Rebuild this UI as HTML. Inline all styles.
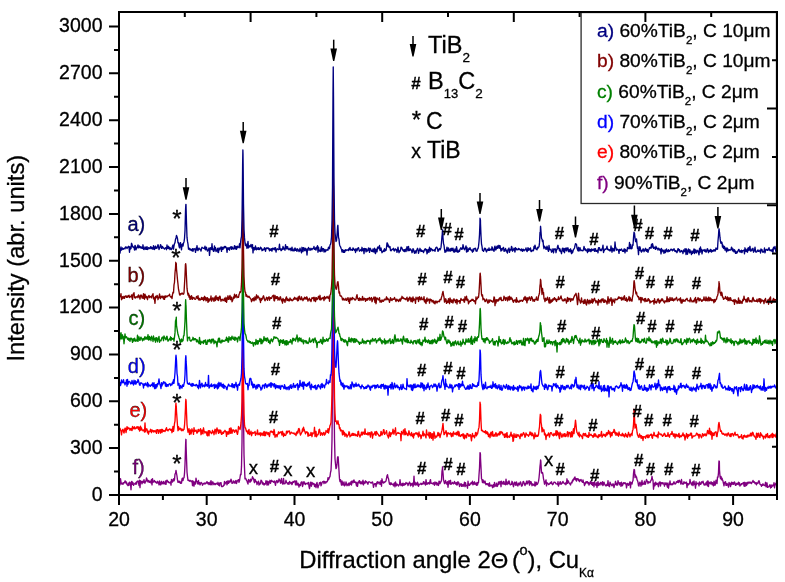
<!DOCTYPE html><html><head><meta charset="utf-8"><style>html,body{margin:0;padding:0;background:#fff;}svg{display:block;will-change:transform;}text{font-family:"Liberation Sans",sans-serif;stroke:#000;stroke-width:0.3px;}</style></head><body>
<svg width="785" height="582" viewBox="0 0 785 582">
<rect width="785" height="582" fill="#fff"/>
<polyline fill="none" stroke="#800080" stroke-width="1.35" stroke-linejoin="round" points="119.50,484.0 120.00,485.0 120.50,478.7 121.00,482.1 121.50,483.7 122.00,484.1 122.50,483.1 123.00,484.3 123.50,482.6 124.00,483.1 124.50,482.6 125.00,480.9 125.50,481.3 126.00,483.2 126.50,482.0 127.00,484.7 127.50,484.9 128.00,485.7 128.50,483.2 129.00,485.4 129.50,482.2 130.00,482.5 130.50,483.8 131.00,489.8 131.50,481.6 132.00,481.4 132.50,484.4 133.00,482.6 133.50,485.4 134.00,484.1 134.50,483.8 135.00,483.4 135.50,484.2 136.00,482.4 136.50,484.0 137.00,481.4 137.50,481.6 138.00,481.0 138.50,482.5 139.00,485.5 139.50,480.2 140.00,487.6 140.50,480.8 141.00,481.2 141.50,482.0 142.00,483.9 142.50,481.3 143.00,482.6 143.50,481.8 144.00,479.6 144.50,482.8 145.00,483.1 145.50,481.3 146.00,481.5 146.50,477.9 147.00,479.2 147.50,480.7 148.00,482.0 148.50,480.4 149.00,481.4 149.50,482.3 150.00,481.1 150.50,481.8 151.00,483.1 151.50,479.4 152.00,484.9 152.50,478.7 153.00,482.2 153.50,482.0 154.00,481.1 154.50,480.5 155.00,482.1 155.50,481.7 156.00,482.6 156.50,482.5 157.00,483.4 157.50,481.3 158.00,482.3 158.50,482.4 159.00,484.8 159.50,480.9 160.00,482.5 160.50,484.8 161.00,484.6 161.50,481.3 162.00,483.4 162.50,482.5 163.00,484.1 163.50,481.5 164.00,483.0 164.50,483.6 165.00,484.1 165.50,480.9 166.00,484.4 166.50,481.0 167.00,480.1 167.50,480.8 168.00,482.4 168.50,481.7 169.00,482.8 169.50,482.9 170.00,482.7 170.50,482.0 171.00,485.1 171.50,479.4 172.00,480.2 172.50,482.0 173.00,480.9 173.50,478.8 174.00,480.9 174.50,479.6 175.00,474.0 175.50,473.5 176.00,470.4 176.50,473.3 177.00,476.0 177.50,480.2 178.00,482.4 178.50,482.1 179.00,481.0 179.50,482.6 180.00,481.4 180.50,483.3 181.00,482.8 181.50,483.2 182.00,478.8 182.50,478.1 183.00,480.6 183.50,478.2 184.00,477.8 184.50,473.7 185.00,464.3 185.50,448.4 185.60,444.5 185.85,439.3 186.00,439.8 186.10,446.2 186.50,458.1 187.00,472.0 187.50,476.6 188.00,480.4 188.50,480.0 189.00,480.8 189.50,481.2 190.00,480.3 190.50,480.7 191.00,481.5 191.50,481.7 192.00,480.7 192.50,485.6 193.00,481.0 193.50,482.1 194.00,486.2 194.50,481.9 195.00,484.0 195.50,484.0 196.00,478.1 196.50,481.2 197.00,481.1 197.50,483.4 198.00,484.1 198.50,480.5 199.00,483.8 199.50,482.7 200.00,484.9 200.50,483.8 201.00,482.4 201.50,482.8 202.00,483.4 202.50,485.2 203.00,484.3 203.50,483.6 204.00,483.2 204.50,484.0 205.00,482.9 205.50,483.8 206.00,483.4 206.50,482.8 207.00,481.6 207.50,482.9 208.00,483.9 208.50,482.6 209.00,484.6 209.50,483.7 210.00,482.1 210.50,484.7 211.00,480.6 211.50,483.9 212.00,484.9 212.50,481.9 213.00,482.2 213.50,483.8 214.00,484.7 214.50,483.5 215.00,483.4 215.50,484.6 216.00,483.9 216.50,483.3 217.00,483.8 217.50,484.2 218.00,482.3 218.50,485.1 219.00,483.6 219.50,485.8 220.00,482.6 220.50,483.4 221.00,482.6 221.50,486.5 222.00,486.4 222.50,486.5 223.00,486.4 223.50,485.4 224.00,485.3 224.50,481.4 225.00,484.1 225.50,482.8 226.00,482.9 226.50,481.4 227.00,484.9 227.50,483.1 228.00,480.6 228.50,483.4 229.00,482.5 229.50,481.0 230.00,482.1 230.50,481.4 231.00,479.2 231.50,480.4 232.00,483.3 232.50,483.1 233.00,483.0 233.50,480.9 234.00,481.7 234.50,482.5 235.00,483.3 235.50,481.0 236.00,480.5 236.50,483.5 237.00,481.7 237.50,480.8 238.00,480.0 238.50,479.7 239.00,482.4 239.50,480.8 240.00,477.5 240.50,474.3 241.00,474.7 241.50,466.4 242.00,442.8 242.50,379.5 242.63,353.9 242.88,332.8 243.00,340.2 243.13,356.2 243.50,415.3 244.00,454.7 244.50,468.1 245.00,478.9 245.50,478.2 246.00,479.0 246.50,480.4 247.00,481.0 247.50,482.7 248.00,484.1 248.50,479.5 249.00,481.1 249.50,480.5 250.00,482.3 250.50,479.2 251.00,481.2 251.50,480.1 252.00,479.1 252.50,476.7 253.00,478.4 253.50,478.2 254.00,481.2 254.50,482.7 255.00,479.5 255.50,480.2 256.00,481.9 256.50,481.6 257.00,484.6 257.50,482.4 258.00,483.1 258.50,481.2 259.00,485.1 259.50,483.2 260.00,484.2 260.50,483.3 261.00,480.2 261.50,480.6 262.00,481.5 262.50,484.0 263.00,482.6 263.50,483.9 264.00,485.1 264.50,483.6 265.00,484.5 265.50,483.3 266.00,480.6 266.50,481.9 267.00,485.1 267.50,481.1 268.00,484.5 268.50,484.8 269.00,481.5 269.50,482.8 270.00,480.3 270.50,483.3 271.00,481.1 271.50,480.3 272.00,481.5 272.50,481.4 273.00,481.2 273.50,482.3 274.00,481.8 274.50,481.0 275.00,483.3 275.50,485.4 276.00,482.0 276.50,480.9 277.00,480.5 277.50,482.7 278.00,481.5 278.50,481.9 279.00,479.0 279.50,480.2 280.00,480.2 280.50,483.2 281.00,481.6 281.50,478.5 282.00,482.8 282.50,483.8 283.00,484.2 283.50,478.4 284.00,482.7 284.50,483.8 285.00,483.6 285.50,482.5 286.00,480.3 286.50,482.3 287.00,482.6 287.50,483.9 288.00,484.0 288.50,482.7 289.00,484.3 289.50,481.5 290.00,482.0 290.50,482.9 291.00,483.7 291.50,482.4 292.00,484.6 292.50,483.3 293.00,481.4 293.50,482.4 294.00,481.5 294.50,481.4 295.00,480.8 295.50,484.9 296.00,484.4 296.50,480.9 297.00,485.0 297.50,484.9 298.00,483.1 298.50,484.5 299.00,487.1 299.50,484.4 300.00,484.6 300.50,485.6 301.00,482.5 301.50,482.1 302.00,481.8 302.50,486.5 303.00,484.9 303.50,482.4 304.00,481.6 304.50,483.8 305.00,483.0 305.50,484.5 306.00,483.5 306.50,483.5 307.00,483.7 307.50,484.0 308.00,482.7 308.50,482.5 309.00,486.5 309.50,488.7 310.00,485.9 310.50,482.1 311.00,484.5 311.50,486.2 312.00,482.3 312.50,484.0 313.00,484.2 313.50,483.5 314.00,483.7 314.50,486.5 315.00,484.4 315.50,484.8 316.00,487.6 316.50,483.9 317.00,482.4 317.50,486.0 318.00,487.8 318.50,485.1 319.00,485.1 319.50,482.7 320.00,483.0 320.50,482.2 321.00,485.8 321.50,484.7 322.00,482.7 322.50,481.7 323.00,481.7 323.50,481.3 324.00,483.6 324.50,481.4 325.00,481.6 325.50,483.0 326.00,482.8 326.50,481.6 327.00,481.9 327.50,480.9 328.00,477.6 328.50,479.7 329.00,478.4 329.50,477.3 330.00,476.4 330.50,472.5 331.00,470.5 331.50,459.8 332.00,440.1 332.50,388.4 332.99,289.8 333.00,290.0 333.24,262.8 333.49,290.7 333.50,289.7 334.00,387.6 334.50,438.7 335.00,458.8 335.50,464.0 336.00,468.6 336.50,467.7 337.00,464.2 337.50,457.5 337.64,458.6 337.89,456.7 338.00,458.4 338.14,456.9 338.50,462.5 339.00,471.0 339.50,478.9 340.00,481.6 340.50,479.7 341.00,482.3 341.50,485.1 342.00,481.0 342.50,482.6 343.00,485.0 343.50,484.4 344.00,481.9 344.50,485.8 345.00,485.2 345.50,484.8 346.00,482.0 346.50,483.6 347.00,485.7 347.50,484.4 348.00,484.8 348.50,483.2 349.00,485.6 349.50,483.0 350.00,484.5 350.50,483.6 351.00,481.6 351.50,485.0 352.00,481.0 352.50,481.6 353.00,482.8 353.50,480.6 354.00,480.0 354.50,482.4 355.00,481.9 355.50,482.2 356.00,483.4 356.50,485.9 357.00,482.2 357.50,486.3 358.00,483.2 358.50,482.8 359.00,481.0 359.50,480.7 360.00,483.3 360.50,483.7 361.00,481.6 361.50,483.2 362.00,484.0 362.50,481.8 363.00,480.2 363.50,484.9 364.00,481.9 364.50,482.6 365.00,483.3 365.50,480.8 366.00,482.1 366.50,481.7 367.00,482.2 367.50,483.8 368.00,484.2 368.50,481.8 369.00,481.8 369.50,481.8 370.00,482.2 370.50,482.6 371.00,483.1 371.50,482.8 372.00,482.1 372.50,482.0 373.00,483.9 373.50,487.3 374.00,484.7 374.50,483.7 375.00,484.4 375.50,483.6 376.00,486.6 376.50,483.3 377.00,482.3 377.50,481.7 378.00,483.8 378.50,482.1 379.00,482.2 379.50,482.1 380.00,484.3 380.50,483.4 381.00,480.6 381.50,486.2 382.00,478.8 382.50,482.1 383.00,482.6 383.50,483.0 384.00,481.8 384.50,482.5 385.00,482.0 385.50,481.4 386.00,480.9 386.50,478.5 387.00,475.7 387.50,474.7 388.00,477.6 388.50,478.5 389.00,481.6 389.50,484.2 390.00,483.2 390.50,484.7 391.00,482.7 391.50,483.9 392.00,484.4 392.50,484.1 393.00,484.5 393.50,485.9 394.00,483.5 394.50,483.0 395.00,486.8 395.50,481.9 396.00,483.9 396.50,485.7 397.00,484.0 397.50,484.9 398.00,484.7 398.50,486.0 399.00,485.0 399.50,484.7 400.00,479.7 400.50,483.7 401.00,485.5 401.50,484.3 402.00,483.5 402.50,485.8 403.00,483.2 403.50,484.0 404.00,485.4 404.50,483.6 405.00,484.6 405.50,484.3 406.00,482.5 406.50,483.4 407.00,483.6 407.50,483.2 408.00,485.6 408.50,484.0 409.00,483.1 409.50,482.0 410.00,483.5 410.50,485.8 411.00,483.5 411.50,485.0 412.00,484.6 412.50,483.2 413.00,486.7 413.50,484.7 414.00,476.1 414.50,484.7 415.00,482.1 415.50,485.0 416.00,483.1 416.50,483.5 417.00,485.1 417.50,482.1 418.00,483.6 418.50,486.4 419.00,484.3 419.50,484.6 420.00,484.1 420.50,484.0 421.00,483.2 421.50,484.6 422.00,483.4 422.50,484.0 423.00,484.0 423.50,481.7 424.00,481.9 424.50,483.8 425.00,483.3 425.50,485.0 426.00,479.6 426.50,483.2 427.00,484.4 427.50,482.9 428.00,483.8 428.50,482.7 429.00,482.6 429.50,484.0 430.00,480.9 430.50,479.6 431.00,483.5 431.50,483.1 432.00,483.2 432.50,483.5 433.00,484.1 433.50,482.6 434.00,484.0 434.50,485.3 435.00,481.9 435.50,483.3 436.00,484.0 436.50,482.5 437.00,485.1 437.50,483.2 438.00,484.7 438.50,485.5 439.00,481.2 439.50,481.3 440.00,483.7 440.50,482.1 441.00,481.8 441.50,480.2 442.00,471.0 442.22,470.3 442.47,467.7 442.50,466.8 442.72,469.7 443.00,472.7 443.50,479.7 444.00,481.6 444.50,483.5 445.00,483.5 445.50,480.5 446.00,482.5 446.50,482.7 447.00,484.4 447.50,481.7 448.00,487.3 448.50,482.6 449.00,480.6 449.50,482.9 450.00,484.0 450.50,480.3 451.00,484.4 451.50,483.6 452.00,483.5 452.50,482.4 453.00,482.9 453.50,483.8 454.00,483.2 454.50,481.5 455.00,483.1 455.50,484.0 456.00,482.8 456.50,484.8 457.00,482.4 457.50,484.9 458.00,481.7 458.50,483.2 459.00,483.0 459.50,486.5 460.00,484.6 460.50,484.8 461.00,483.6 461.50,486.3 462.00,484.3 462.50,485.4 463.00,486.3 463.50,484.4 464.00,485.7 464.50,482.2 465.00,486.6 465.50,482.7 466.00,485.7 466.50,485.5 467.00,485.7 467.50,488.2 468.00,481.2 468.50,485.3 469.00,483.8 469.50,485.3 470.00,484.4 470.50,483.9 471.00,482.9 471.50,482.5 472.00,483.9 472.50,481.2 473.00,484.9 473.50,482.6 474.00,484.1 474.50,481.8 475.00,484.2 475.50,483.2 476.00,484.6 476.50,485.2 477.00,482.4 477.50,485.1 478.00,482.5 478.50,482.7 479.00,474.8 479.50,468.0 479.95,455.5 480.00,452.7 480.20,452.8 480.45,454.3 480.50,458.0 481.00,467.9 481.50,478.8 482.00,479.8 482.50,482.6 483.00,479.8 483.50,481.5 484.00,483.1 484.50,481.7 485.00,481.0 485.50,483.4 486.00,484.7 486.50,483.7 487.00,483.6 487.50,484.6 488.00,483.6 488.50,485.6 489.00,486.0 489.50,482.8 490.00,486.2 490.50,485.8 491.00,485.3 491.50,485.9 492.00,485.0 492.50,487.7 493.00,487.3 493.50,484.6 494.00,486.8 494.50,482.4 495.00,486.1 495.50,485.7 496.00,486.0 496.50,483.2 497.00,486.5 497.50,486.1 498.00,484.5 498.50,482.0 499.00,484.4 499.50,482.6 500.00,481.4 500.50,482.5 501.00,486.7 501.50,481.1 502.00,482.7 502.50,483.3 503.00,484.3 503.50,481.5 504.00,481.6 504.50,484.2 505.00,483.6 505.50,484.8 506.00,479.2 506.50,483.1 507.00,484.6 507.50,483.6 508.00,481.8 508.50,483.7 509.00,480.8 509.50,482.4 510.00,484.6 510.50,484.8 511.00,484.1 511.50,484.4 512.00,481.3 512.50,482.5 513.00,484.9 513.50,486.7 514.00,484.1 514.50,482.1 515.00,482.1 515.50,485.2 516.00,485.1 516.50,481.9 517.00,483.9 517.50,485.8 518.00,485.9 518.50,483.2 519.00,483.8 519.50,484.8 520.00,482.6 520.50,481.9 521.00,483.3 521.50,486.1 522.00,485.9 522.50,485.0 523.00,481.9 523.50,481.5 524.00,482.8 524.50,484.2 525.00,485.6 525.50,483.4 526.00,484.1 526.50,481.4 527.00,480.9 527.50,483.9 528.00,482.2 528.50,482.4 529.00,480.7 529.50,485.1 530.00,481.3 530.50,483.9 531.00,481.7 531.50,483.3 532.00,485.7 532.50,484.2 533.00,484.0 533.50,485.1 534.00,484.6 534.50,485.8 535.00,481.8 535.50,485.8 536.00,483.9 536.50,482.3 537.00,484.5 537.50,484.1 538.00,482.9 538.50,481.4 539.00,478.0 539.50,472.8 540.00,466.3 540.31,463.9 540.50,461.5 540.56,460.0 540.81,460.9 541.00,464.3 541.50,472.8 542.00,473.1 542.50,472.5 543.00,474.9 543.50,478.8 544.00,480.9 544.50,484.2 545.00,483.0 545.50,481.6 546.00,479.9 546.50,485.9 547.00,482.7 547.50,483.3 548.00,483.4 548.50,484.6 549.00,484.2 549.50,484.1 550.00,483.1 550.50,482.5 551.00,483.3 551.50,481.8 552.00,483.6 552.50,484.7 553.00,484.3 553.50,483.5 554.00,482.1 554.50,482.1 555.00,482.3 555.50,482.7 556.00,483.9 556.50,483.9 557.00,483.9 557.50,484.5 558.00,481.6 558.50,486.1 559.00,483.7 559.50,484.0 560.00,481.9 560.50,481.8 561.00,484.4 561.50,483.8 562.00,483.4 562.50,482.4 563.00,481.4 563.50,482.7 564.00,483.2 564.50,483.5 565.00,484.1 565.50,483.0 566.00,484.7 566.50,482.5 567.00,478.8 567.50,483.3 568.00,480.7 568.50,481.4 569.00,482.6 569.50,483.6 570.00,483.8 570.50,485.0 571.00,483.0 571.50,482.3 572.00,482.9 572.50,480.2 573.00,481.0 573.50,479.0 574.00,479.5 574.50,477.5 575.00,477.0 575.50,479.8 576.00,478.7 576.50,481.1 577.00,478.6 577.50,478.9 578.00,478.8 578.50,480.5 579.00,479.5 579.50,481.5 580.00,480.9 580.50,479.9 581.00,479.4 581.50,480.8 582.00,481.6 582.50,482.2 583.00,480.0 583.50,482.3 584.00,482.9 584.50,485.6 585.00,483.0 585.50,483.9 586.00,481.6 586.50,482.7 587.00,481.7 587.50,481.6 588.00,483.5 588.50,482.6 589.00,485.0 589.50,483.0 590.00,483.7 590.50,481.4 591.00,481.8 591.50,484.3 592.00,482.5 592.50,485.4 593.00,482.6 593.50,482.6 594.00,486.8 594.50,481.7 595.00,483.5 595.50,485.1 596.00,485.2 596.50,482.8 597.00,487.5 597.50,483.7 598.00,481.6 598.50,485.5 599.00,483.4 599.50,484.1 600.00,485.0 600.50,482.5 601.00,482.7 601.50,483.5 602.00,484.8 602.50,481.7 603.00,485.6 603.50,484.1 604.00,482.1 604.50,483.8 605.00,484.7 605.50,485.8 606.00,485.3 606.50,485.8 607.00,484.1 607.50,485.4 608.00,480.6 608.50,485.8 609.00,484.3 609.50,486.6 610.00,482.1 610.50,483.5 611.00,484.1 611.50,485.1 612.00,485.9 612.50,485.2 613.00,483.7 613.50,485.0 614.00,487.5 614.50,485.2 615.00,484.3 615.50,481.3 616.00,484.3 616.50,485.0 617.00,483.3 617.50,485.1 618.00,480.6 618.50,482.8 619.00,482.6 619.50,484.8 620.00,482.9 620.50,482.8 621.00,486.3 621.50,482.1 622.00,484.9 622.50,485.7 623.00,483.7 623.50,482.7 624.00,483.7 624.50,483.0 625.00,482.6 625.50,483.9 626.00,483.4 626.50,487.8 627.00,485.1 627.50,483.4 628.00,483.8 628.50,485.4 629.00,484.6 629.50,482.9 630.00,481.7 630.50,487.9 631.00,482.7 631.50,482.9 632.00,484.1 632.50,481.5 633.00,480.6 633.50,473.7 634.00,469.5 634.50,469.8 635.00,477.6 635.50,474.8 636.00,476.7 636.50,476.9 637.00,479.6 637.50,480.7 638.00,482.3 638.50,485.6 639.00,486.0 639.50,483.1 640.00,482.2 640.50,483.2 641.00,486.2 641.50,483.6 642.00,480.5 642.50,484.7 643.00,483.2 643.50,484.1 644.00,483.7 644.50,481.2 645.00,484.4 645.50,483.9 646.00,481.9 646.50,479.5 647.00,481.1 647.50,481.1 648.00,483.6 648.50,481.8 649.00,481.9 649.50,482.3 650.00,482.7 650.50,481.5 651.00,480.2 651.50,479.9 652.00,476.3 652.50,479.5 653.00,480.2 653.50,489.2 654.00,485.3 654.50,483.3 655.00,485.7 655.50,482.1 656.00,483.3 656.50,484.5 657.00,483.3 657.50,483.4 658.00,485.0 658.50,486.7 659.00,482.5 659.50,482.7 660.00,481.8 660.50,486.0 661.00,482.7 661.50,483.6 662.00,482.8 662.50,483.8 663.00,482.6 663.50,484.1 664.00,484.1 664.50,486.2 665.00,482.6 665.50,484.3 666.00,484.1 666.50,483.0 667.00,485.6 667.50,487.2 668.00,483.0 668.50,488.2 669.00,484.5 669.50,484.5 670.00,480.9 670.50,484.6 671.00,484.2 671.50,483.9 672.00,485.0 672.50,483.7 673.00,484.3 673.50,482.7 674.00,481.8 674.50,483.4 675.00,484.0 675.50,483.9 676.00,482.9 676.50,481.6 677.00,482.5 677.50,481.9 678.00,480.4 678.50,482.5 679.00,481.7 679.50,480.3 680.00,481.5 680.50,482.8 681.00,484.2 681.50,479.5 682.00,483.2 682.50,483.3 683.00,484.4 683.50,483.5 684.00,481.7 684.50,482.7 685.00,483.5 685.50,482.6 686.00,482.3 686.50,482.1 687.00,487.6 687.50,484.0 688.00,483.6 688.50,484.9 689.00,484.0 689.50,483.6 690.00,479.4 690.50,482.6 691.00,483.1 691.50,484.9 692.00,484.4 692.50,481.9 693.00,485.6 693.50,482.8 694.00,481.0 694.50,484.3 695.00,484.1 695.50,488.2 696.00,481.6 696.50,484.7 697.00,483.6 697.50,483.3 698.00,483.1 698.50,483.3 699.00,485.9 699.50,482.0 700.00,483.2 700.50,484.4 701.00,484.0 701.50,481.8 702.00,482.9 702.50,482.6 703.00,481.2 703.50,483.1 704.00,484.8 704.50,484.0 705.00,485.2 705.50,484.4 706.00,482.8 706.50,484.7 707.00,481.5 707.50,485.9 708.00,480.8 708.50,486.5 709.00,482.2 709.50,482.8 710.00,483.5 710.50,483.8 711.00,481.8 711.50,482.2 712.00,484.6 712.50,482.6 713.00,484.9 713.50,485.8 714.00,481.1 714.50,482.5 715.00,485.3 715.50,484.0 716.00,480.2 716.50,482.3 717.00,483.6 717.50,476.9 718.00,477.2 718.50,472.6 718.85,462.7 719.00,461.0 719.10,462.6 719.35,461.4 719.50,470.0 720.00,476.4 720.50,478.6 721.00,476.4 721.50,479.8 722.00,478.1 722.50,479.8 723.00,481.3 723.50,483.6 724.00,485.8 724.50,482.3 725.00,482.7 725.50,481.7 726.00,485.3 726.50,485.3 727.00,483.4 727.50,485.0 728.00,484.4 728.50,487.1 729.00,482.5 729.50,484.5 730.00,483.4 730.50,486.6 731.00,484.5 731.50,482.1 732.00,484.4 732.50,483.5 733.00,482.4 733.50,484.3 734.00,483.9 734.50,482.0 735.00,483.1 735.50,485.4 736.00,485.2 736.50,483.6 737.00,483.3 737.50,484.3 738.00,483.7 738.50,482.2 739.00,484.9 739.50,482.8 740.00,486.1 740.50,484.8 741.00,485.0 741.50,483.6 742.00,484.3 742.50,483.2 743.00,483.4 743.50,482.5 744.00,486.0 744.50,482.3 745.00,486.3 745.50,483.3 746.00,482.5 746.50,485.5 747.00,484.2 747.50,482.3 748.00,483.7 748.50,482.7 749.00,481.9 749.50,482.8 750.00,483.2 750.50,482.2 751.00,482.5 751.50,483.6 752.00,482.3 752.50,481.8 753.00,480.5 753.50,482.2 754.00,481.7 754.50,482.0 755.00,483.5 755.50,483.7 756.00,482.6 756.50,484.9 757.00,483.0 757.50,483.4 758.00,483.4 758.50,481.2 759.00,480.7 759.50,482.2 760.00,484.3 760.50,484.7 761.00,484.6 761.50,486.3 762.00,484.8 762.50,485.4 763.00,483.8 763.50,485.1 764.00,485.1 764.50,485.6 765.00,485.3 765.50,482.3 766.00,486.8 766.50,486.7 767.00,482.8 767.50,487.4 768.00,487.2 768.50,486.7 769.00,486.6 769.50,485.2 770.00,484.7 770.50,488.0 771.00,485.8 771.50,487.4 772.00,484.8 772.50,486.1 773.00,485.8 773.50,485.7 774.00,482.7 774.50,487.8 775.00,484.8 775.50,483.8 776.00,484.7 776.50,481.7"/>
<polyline fill="none" stroke="#ff0000" stroke-width="1.35" stroke-linejoin="round" points="119.50,429.1 120.00,428.3 120.50,430.1 121.00,431.3 121.50,434.8 122.00,430.8 122.50,429.7 123.00,429.3 123.50,431.7 124.00,433.1 124.50,430.3 125.00,428.1 125.50,428.4 126.00,432.5 126.50,430.0 127.00,426.7 127.50,429.4 128.00,427.5 128.50,428.4 129.00,428.6 129.50,428.2 130.00,430.3 130.50,429.3 131.00,428.4 131.50,430.0 132.00,430.6 132.50,426.5 133.00,428.7 133.50,427.4 134.00,428.7 134.50,426.8 135.00,428.9 135.50,428.7 136.00,428.3 136.50,427.0 137.00,428.1 137.50,427.0 138.00,426.6 138.50,429.3 139.00,427.2 139.50,431.0 140.00,430.4 140.50,426.1 141.00,430.0 141.50,427.9 142.00,429.9 142.50,430.1 143.00,430.7 143.50,429.9 144.00,429.9 144.50,432.0 145.00,422.9 145.50,431.7 146.00,428.6 146.50,429.9 147.00,429.0 147.50,432.7 148.00,431.2 148.50,434.2 149.00,431.3 149.50,431.6 150.00,431.6 150.50,429.3 151.00,430.2 151.50,432.7 152.00,429.9 152.50,431.0 153.00,430.8 153.50,432.0 154.00,430.6 154.50,431.1 155.00,431.9 155.50,431.8 156.00,430.3 156.50,433.3 157.00,429.7 157.50,429.9 158.00,429.7 158.50,433.4 159.00,431.2 159.50,430.1 160.00,429.8 160.50,433.1 161.00,429.8 161.50,429.4 162.00,432.5 162.50,429.5 163.00,430.9 163.50,431.3 164.00,430.5 164.50,431.1 165.00,431.6 165.50,430.1 166.00,428.8 166.50,427.7 167.00,430.3 167.50,430.0 168.00,430.9 168.50,429.6 169.00,429.5 169.50,429.0 170.00,429.2 170.50,430.2 171.00,429.2 171.50,429.9 172.00,432.7 172.50,430.1 173.00,426.4 173.50,431.4 174.00,428.1 174.50,423.5 175.00,421.1 175.50,410.6 175.78,404.9 176.00,403.2 176.03,405.1 176.28,406.1 176.50,411.5 177.00,418.4 177.50,425.5 178.00,430.7 178.50,426.7 179.00,429.7 179.50,429.1 180.00,428.1 180.50,428.3 181.00,430.0 181.50,430.7 182.00,429.0 182.50,429.8 183.00,430.7 183.50,429.4 184.00,429.3 184.50,425.7 185.00,418.1 185.50,407.2 185.60,402.8 185.85,399.3 186.00,401.3 186.10,400.6 186.50,412.2 187.00,424.6 187.50,429.0 188.00,432.2 188.50,430.5 189.00,428.6 189.50,434.5 190.00,433.3 190.50,429.9 191.00,434.0 191.50,431.9 192.00,428.8 192.50,431.1 193.00,431.0 193.50,434.4 194.00,427.7 194.50,431.3 195.00,431.2 195.50,430.9 196.00,430.0 196.50,431.8 197.00,433.2 197.50,432.4 198.00,429.8 198.50,429.4 199.00,431.5 199.50,430.2 200.00,430.3 200.50,428.6 201.00,434.7 201.50,433.0 202.00,430.0 202.50,433.1 203.00,433.9 203.50,427.8 204.00,431.0 204.50,431.3 205.00,433.1 205.50,431.9 206.00,431.8 206.50,432.1 207.00,435.3 207.50,435.8 208.00,431.4 208.50,430.7 209.00,435.8 209.50,430.6 210.00,431.2 210.50,432.1 211.00,432.8 211.50,433.6 212.00,432.5 212.50,430.3 213.00,432.5 213.50,432.0 214.00,434.7 214.50,431.5 215.00,429.3 215.50,429.7 216.00,433.8 216.50,430.5 217.00,427.9 217.50,430.4 218.00,431.4 218.50,433.3 219.00,429.7 219.50,432.5 220.00,432.7 220.50,430.2 221.00,431.1 221.50,434.3 222.00,434.3 222.50,432.9 223.00,432.1 223.50,433.4 224.00,431.4 224.50,431.5 225.00,430.3 225.50,431.8 226.00,431.7 226.50,436.4 227.00,431.6 227.50,434.0 228.00,434.2 228.50,431.7 229.00,433.9 229.50,428.4 230.00,432.1 230.50,433.3 231.00,427.8 231.50,429.8 232.00,433.4 232.50,431.1 233.00,429.6 233.50,430.7 234.00,430.3 234.50,432.3 235.00,431.8 235.50,430.5 236.00,429.8 236.50,430.8 237.00,433.0 237.50,434.4 238.00,431.6 238.50,426.5 239.00,427.8 239.50,428.2 240.00,429.5 240.50,427.1 241.00,422.7 241.50,415.5 242.00,401.5 242.50,354.7 242.63,338.8 242.88,322.6 243.00,327.3 243.13,340.0 243.50,384.0 244.00,413.7 244.50,424.5 245.00,427.8 245.50,428.0 246.00,429.8 246.50,431.5 247.00,430.8 247.50,432.6 248.00,433.9 248.50,430.9 249.00,429.5 249.50,434.5 250.00,432.6 250.50,433.9 251.00,431.1 251.50,435.7 252.00,434.1 252.50,432.7 253.00,432.4 253.50,433.2 254.00,432.8 254.50,432.7 255.00,431.4 255.50,435.4 256.00,433.3 256.50,433.6 257.00,433.8 257.50,429.9 258.00,434.8 258.50,433.5 259.00,433.7 259.50,434.4 260.00,432.7 260.50,435.8 261.00,433.3 261.50,434.8 262.00,433.0 262.50,434.6 263.00,435.5 263.50,433.1 264.00,431.5 264.50,435.6 265.00,431.9 265.50,435.5 266.00,433.3 266.50,432.1 267.00,432.1 267.50,433.9 268.00,434.5 268.50,432.7 269.00,434.6 269.50,436.5 270.00,432.8 270.50,431.3 271.00,431.5 271.50,431.1 272.00,432.4 272.50,432.4 273.00,431.5 273.50,434.7 274.00,429.5 274.50,431.7 275.00,437.3 275.50,435.7 276.00,434.8 276.50,434.7 277.00,436.8 277.50,434.7 278.00,434.0 278.50,431.8 279.00,433.6 279.50,432.5 280.00,432.5 280.50,432.5 281.00,431.6 281.50,433.1 282.00,435.0 282.50,431.3 283.00,433.2 283.50,436.5 284.00,433.5 284.50,435.3 285.00,435.2 285.50,435.5 286.00,434.6 286.50,431.1 287.00,433.0 287.50,432.8 288.00,431.0 288.50,431.3 289.00,431.6 289.50,431.0 290.00,434.1 290.50,433.7 291.00,432.7 291.50,432.3 292.00,432.9 292.50,433.2 293.00,433.1 293.50,433.6 294.00,432.9 294.50,434.1 295.00,434.3 295.50,433.9 296.00,435.6 296.50,432.1 297.00,433.8 297.50,431.1 298.00,432.9 298.50,428.9 299.00,428.5 299.50,429.8 300.00,433.4 300.50,435.1 301.00,433.9 301.50,432.9 302.00,432.2 302.50,429.0 303.00,431.2 303.50,427.2 304.00,429.3 304.50,430.6 305.00,432.1 305.50,433.9 306.00,432.0 306.50,432.3 307.00,431.7 307.50,432.7 308.00,436.2 308.50,433.0 309.00,435.7 309.50,435.2 310.00,435.1 310.50,435.3 311.00,432.4 311.50,434.7 312.00,436.7 312.50,432.9 313.00,433.9 313.50,432.8 314.00,432.8 314.50,427.3 315.00,436.5 315.50,433.2 316.00,431.3 316.50,436.8 317.00,435.4 317.50,434.7 318.00,434.7 318.50,433.3 319.00,429.8 319.50,429.3 320.00,432.0 320.50,435.3 321.00,434.0 321.50,432.8 322.00,433.2 322.50,435.2 323.00,434.1 323.50,432.7 324.00,432.4 324.50,435.1 325.00,434.2 325.50,433.9 326.00,430.5 326.50,431.9 327.00,431.4 327.50,432.3 328.00,428.7 328.50,433.0 329.00,430.5 329.50,428.1 330.00,425.3 330.50,424.6 331.00,422.5 331.50,409.7 332.00,394.5 332.50,347.9 332.99,256.7 333.00,258.3 333.24,233.4 333.49,259.8 333.50,259.6 334.00,348.4 334.50,397.5 335.00,413.2 335.50,421.4 336.00,420.6 336.50,422.4 337.00,424.1 337.50,422.6 338.00,420.8 338.50,424.5 339.00,424.4 339.50,428.6 340.00,427.7 340.50,430.9 341.00,430.0 341.50,430.1 342.00,431.6 342.50,434.9 343.00,430.5 343.50,431.6 344.00,434.6 344.50,432.5 345.00,436.4 345.50,434.0 346.00,434.0 346.50,434.6 347.00,437.0 347.50,435.3 348.00,435.1 348.50,434.7 349.00,431.7 349.50,432.8 350.00,436.8 350.50,435.7 351.00,435.3 351.50,435.6 352.00,433.7 352.50,435.2 353.00,433.3 353.50,435.4 354.00,433.6 354.50,434.5 355.00,435.5 355.50,434.2 356.00,435.7 356.50,435.2 357.00,434.9 357.50,436.4 358.00,431.6 358.50,431.3 359.00,434.9 359.50,435.3 360.00,437.0 360.50,434.9 361.00,435.0 361.50,432.2 362.00,434.9 362.50,434.8 363.00,432.0 363.50,432.3 364.00,433.6 364.50,434.3 365.00,428.9 365.50,433.9 366.00,434.2 366.50,433.6 367.00,434.3 367.50,434.7 368.00,432.3 368.50,434.8 369.00,433.8 369.50,432.7 370.00,434.8 370.50,437.0 371.00,432.2 371.50,432.0 372.00,432.1 372.50,438.2 373.00,434.5 373.50,434.9 374.00,433.7 374.50,433.4 375.00,431.6 375.50,435.1 376.00,435.2 376.50,431.4 377.00,432.9 377.50,433.2 378.00,434.3 378.50,434.6 379.00,435.9 379.50,436.1 380.00,435.4 380.50,435.7 381.00,431.4 381.50,432.3 382.00,435.0 382.50,433.5 383.00,433.0 383.50,429.7 384.00,429.9 384.50,434.3 385.00,433.7 385.50,432.8 386.00,432.7 386.50,430.6 387.00,434.2 387.50,435.4 388.00,436.5 388.50,438.0 389.00,433.5 389.50,432.0 390.00,435.8 390.50,436.5 391.00,432.6 391.50,434.1 392.00,433.7 392.50,432.5 393.00,429.2 393.50,432.7 394.00,434.2 394.50,430.8 395.00,431.8 395.50,427.8 396.00,435.3 396.50,434.1 397.00,433.4 397.50,432.9 398.00,432.4 398.50,433.4 399.00,433.1 399.50,433.3 400.00,433.7 400.50,434.0 401.00,440.7 401.50,431.5 402.00,434.3 402.50,432.8 403.00,432.0 403.50,429.9 404.00,434.8 404.50,432.2 405.00,428.7 405.50,434.6 406.00,432.0 406.50,433.9 407.00,433.7 407.50,435.2 408.00,435.6 408.50,432.6 409.00,430.8 409.50,434.0 410.00,434.9 410.50,434.0 411.00,435.7 411.50,432.5 412.00,435.0 412.50,436.6 413.00,434.2 413.50,438.0 414.00,433.5 414.50,435.0 415.00,433.8 415.50,433.6 416.00,432.7 416.50,433.6 417.00,434.4 417.50,433.1 418.00,435.6 418.50,437.0 419.00,432.0 419.50,435.9 420.00,434.9 420.50,435.0 421.00,438.7 421.50,436.6 422.00,435.2 422.50,435.0 423.00,431.1 423.50,435.9 424.00,433.4 424.50,434.9 425.00,434.8 425.50,436.2 426.00,437.9 426.50,429.9 427.00,434.3 427.50,434.1 428.00,435.3 428.50,435.8 429.00,432.2 429.50,438.0 430.00,433.5 430.50,432.6 431.00,437.4 431.50,438.3 432.00,433.7 432.50,433.9 433.00,440.1 433.50,435.2 434.00,431.8 434.50,434.0 435.00,438.4 435.50,436.1 436.00,436.3 436.50,437.1 437.00,436.2 437.50,434.5 438.00,432.4 438.50,435.7 439.00,433.1 439.50,434.7 440.00,437.5 440.50,435.2 441.00,433.7 441.50,432.2 442.00,430.2 442.50,427.0 443.00,423.4 443.50,429.3 444.00,434.6 444.50,434.4 445.00,432.4 445.50,432.8 446.00,430.6 446.50,432.7 447.00,436.7 447.50,434.0 448.00,432.7 448.50,433.2 449.00,434.0 449.50,434.0 450.00,433.6 450.50,432.9 451.00,435.3 451.50,436.7 452.00,433.3 452.50,433.3 453.00,436.2 453.50,431.8 454.00,433.2 454.50,433.6 455.00,434.5 455.50,433.7 456.00,432.8 456.50,434.8 457.00,432.3 457.50,434.6 458.00,431.1 458.50,435.8 459.00,431.9 459.50,435.6 460.00,436.2 460.50,436.5 461.00,435.1 461.50,434.6 462.00,435.8 462.50,434.8 463.00,433.7 463.50,438.0 464.00,434.5 464.50,438.9 465.00,436.8 465.50,435.2 466.00,436.6 466.50,437.8 467.00,433.4 467.50,434.1 468.00,433.9 468.50,435.9 469.00,436.3 469.50,435.7 470.00,434.5 470.50,434.8 471.00,437.7 471.50,440.8 472.00,436.0 472.50,433.5 473.00,436.6 473.50,435.9 474.00,435.6 474.50,437.8 475.00,436.0 475.50,432.8 476.00,432.4 476.50,435.9 477.00,433.5 477.50,434.1 478.00,431.7 478.50,429.0 479.00,427.4 479.50,420.2 479.95,405.8 480.00,402.2 480.20,403.6 480.45,404.2 480.50,406.5 481.00,421.3 481.50,430.6 482.00,430.4 482.50,430.3 483.00,431.7 483.50,431.9 484.00,431.4 484.50,432.3 485.00,432.5 485.50,430.7 486.00,433.7 486.50,432.4 487.00,431.6 487.50,434.2 488.00,432.8 488.50,436.6 489.00,434.7 489.50,434.2 490.00,437.7 490.50,433.8 491.00,432.2 491.50,433.6 492.00,436.0 492.50,431.4 493.00,435.2 493.50,436.2 494.00,435.3 494.50,434.7 495.00,436.3 495.50,433.1 496.00,432.8 496.50,434.5 497.00,436.2 497.50,434.8 498.00,433.7 498.50,434.5 499.00,435.1 499.50,431.9 500.00,434.5 500.50,432.2 501.00,431.5 501.50,433.0 502.00,432.1 502.50,432.7 503.00,434.9 503.50,434.5 504.00,434.4 504.50,437.3 505.00,433.9 505.50,434.2 506.00,437.1 506.50,433.3 507.00,432.6 507.50,437.6 508.00,436.1 508.50,436.6 509.00,436.8 509.50,437.3 510.00,435.0 510.50,435.7 511.00,432.1 511.50,436.0 512.00,436.2 512.50,435.0 513.00,441.4 513.50,440.5 514.00,433.7 514.50,436.9 515.00,437.1 515.50,437.2 516.00,434.1 516.50,437.3 517.00,436.4 517.50,435.0 518.00,434.6 518.50,435.5 519.00,436.5 519.50,436.4 520.00,438.6 520.50,434.2 521.00,435.8 521.50,434.0 522.00,436.0 522.50,434.9 523.00,433.7 523.50,432.5 524.00,433.5 524.50,435.2 525.00,437.3 525.50,436.2 526.00,433.0 526.50,434.2 527.00,435.0 527.50,434.8 528.00,435.1 528.50,436.3 529.00,435.3 529.50,433.9 530.00,431.9 530.50,434.5 531.00,432.4 531.50,434.9 532.00,435.8 532.50,433.2 533.00,435.3 533.50,435.0 534.00,438.8 534.50,436.6 535.00,432.8 535.50,436.6 536.00,436.6 536.50,435.5 537.00,435.1 537.50,436.4 538.00,436.0 538.50,434.6 539.00,430.0 539.50,426.8 540.00,418.0 540.31,414.3 540.50,414.6 540.56,414.8 540.81,415.4 541.00,422.0 541.50,425.1 542.00,431.9 542.50,427.9 543.00,431.1 543.50,430.7 544.00,429.8 544.50,434.9 545.00,433.2 545.50,434.9 546.00,439.5 546.50,435.1 547.00,435.0 547.50,435.5 548.00,434.6 548.50,433.0 549.00,434.8 549.50,437.0 550.00,434.5 550.50,432.6 551.00,432.7 551.50,432.9 552.00,434.4 552.50,435.0 553.00,434.9 553.50,435.9 554.00,433.5 554.50,435.1 555.00,434.2 555.50,434.8 556.00,430.6 556.50,435.6 557.00,431.0 557.50,431.7 558.00,434.9 558.50,433.0 559.00,436.7 559.50,438.6 560.00,432.2 560.50,434.3 561.00,433.5 561.50,436.8 562.00,437.1 562.50,435.7 563.00,434.0 563.50,434.9 564.00,436.6 564.50,433.6 565.00,433.7 565.50,436.5 566.00,436.3 566.50,434.7 567.00,434.6 567.50,431.7 568.00,436.8 568.50,434.6 569.00,432.3 569.50,432.6 570.00,432.9 570.50,437.0 571.00,435.2 571.50,431.7 572.00,436.9 572.50,435.8 573.00,431.7 573.50,428.6 574.00,433.6 574.50,428.7 575.00,425.1 575.50,420.1 576.00,424.6 576.50,430.0 577.00,432.7 577.50,433.0 578.00,434.5 578.50,435.5 579.00,432.1 579.50,436.9 580.00,434.4 580.50,435.4 581.00,435.3 581.50,436.5 582.00,436.8 582.50,438.6 583.00,434.4 583.50,433.4 584.00,435.1 584.50,433.8 585.00,435.8 585.50,433.5 586.00,435.1 586.50,436.5 587.00,436.6 587.50,435.4 588.00,437.4 588.50,437.3 589.00,432.4 589.50,435.8 590.00,435.5 590.50,434.7 591.00,434.2 591.50,435.3 592.00,435.8 592.50,435.6 593.00,437.3 593.50,436.7 594.00,434.1 594.50,433.8 595.00,436.5 595.50,434.0 596.00,435.5 596.50,436.0 597.00,437.0 597.50,436.3 598.00,437.9 598.50,434.8 599.00,436.7 599.50,434.6 600.00,436.0 600.50,435.9 601.00,434.2 601.50,431.4 602.00,437.2 602.50,436.1 603.00,435.6 603.50,434.1 604.00,434.6 604.50,435.7 605.00,434.8 605.50,436.5 606.00,434.6 606.50,432.8 607.00,435.0 607.50,432.8 608.00,434.0 608.50,430.5 609.00,432.7 609.50,434.1 610.00,431.9 610.50,437.0 611.00,433.8 611.50,432.8 612.00,435.6 612.50,432.2 613.00,432.3 613.50,432.4 614.00,429.4 614.50,430.2 615.00,433.7 615.50,432.4 616.00,435.3 616.50,433.0 617.00,433.0 617.50,435.1 618.00,433.9 618.50,436.2 619.00,431.9 619.50,434.5 620.00,434.9 620.50,434.8 621.00,435.8 621.50,435.7 622.00,434.2 622.50,433.3 623.00,435.9 623.50,434.5 624.00,436.2 624.50,437.0 625.00,435.2 625.50,433.5 626.00,434.7 626.50,436.5 627.00,434.9 627.50,437.2 628.00,435.3 628.50,432.3 629.00,434.2 629.50,435.0 630.00,436.9 630.50,434.4 631.00,434.3 631.50,433.4 632.00,435.5 632.50,430.8 633.00,429.4 633.50,424.6 633.92,416.4 634.00,409.3 634.17,410.2 634.42,410.6 634.50,416.7 635.00,428.1 635.50,425.8 636.00,424.3 636.50,427.7 637.00,432.2 637.50,434.8 638.00,435.6 638.50,437.2 639.00,437.3 639.50,434.0 640.00,435.7 640.50,435.5 641.00,438.1 641.50,435.6 642.00,438.2 642.50,436.7 643.00,440.5 643.50,436.7 644.00,436.8 644.50,436.7 645.00,437.1 645.50,438.3 646.00,436.0 646.50,435.3 647.00,436.3 647.50,437.6 648.00,434.7 648.50,437.5 649.00,437.3 649.50,435.6 650.00,435.4 650.50,434.4 651.00,435.2 651.50,434.2 652.00,437.6 652.50,438.2 653.00,435.0 653.50,435.4 654.00,432.3 654.50,434.5 655.00,435.9 655.50,435.8 656.00,435.5 656.50,436.6 657.00,435.3 657.50,434.5 658.00,437.8 658.50,432.0 659.00,433.3 659.50,434.0 660.00,434.0 660.50,434.0 661.00,435.0 661.50,434.2 662.00,435.3 662.50,436.4 663.00,435.4 663.50,435.6 664.00,433.7 664.50,433.3 665.00,434.5 665.50,436.4 666.00,435.3 666.50,436.3 667.00,436.0 667.50,436.0 668.00,432.7 668.50,436.0 669.00,435.1 669.50,437.2 670.00,434.7 670.50,434.3 671.00,433.7 671.50,434.3 672.00,431.4 672.50,433.9 673.00,434.4 673.50,436.2 674.00,433.6 674.50,435.1 675.00,438.0 675.50,434.2 676.00,436.5 676.50,434.3 677.00,435.0 677.50,435.9 678.00,436.6 678.50,434.3 679.00,433.4 679.50,437.6 680.00,435.4 680.50,436.4 681.00,436.7 681.50,436.5 682.00,434.9 682.50,435.2 683.00,432.9 683.50,435.8 684.00,434.7 684.50,435.6 685.00,440.0 685.50,436.8 686.00,435.8 686.50,433.5 687.00,436.9 687.50,438.2 688.00,434.4 688.50,436.4 689.00,434.9 689.50,435.5 690.00,435.2 690.50,433.2 691.00,435.0 691.50,433.2 692.00,438.1 692.50,437.6 693.00,436.0 693.50,436.3 694.00,435.9 694.50,436.0 695.00,435.9 695.50,435.1 696.00,435.1 696.50,433.1 697.00,433.6 697.50,434.1 698.00,435.6 698.50,434.4 699.00,438.1 699.50,434.7 700.00,434.4 700.50,435.6 701.00,436.5 701.50,437.8 702.00,436.3 702.50,433.6 703.00,434.2 703.50,436.0 704.00,434.6 704.50,435.3 705.00,433.7 705.50,434.8 706.00,435.9 706.50,435.2 707.00,433.5 707.50,430.5 708.00,430.8 708.50,433.5 709.00,433.9 709.50,428.1 710.00,432.0 710.50,434.7 711.00,431.3 711.50,432.1 712.00,439.2 712.50,433.2 713.00,432.9 713.50,435.3 714.00,435.5 714.50,433.0 715.00,432.4 715.50,432.0 716.00,431.8 716.50,436.2 717.00,436.6 717.50,432.8 718.00,431.5 718.50,424.6 719.00,422.4 719.50,425.6 720.00,428.8 720.50,431.4 721.00,430.5 721.50,431.5 722.00,433.5 722.50,433.4 723.00,434.3 723.50,433.4 724.00,434.1 724.50,434.6 725.00,435.4 725.50,434.7 726.00,433.8 726.50,434.2 727.00,436.1 727.50,434.4 728.00,433.1 728.50,433.0 729.00,435.1 729.50,435.5 730.00,436.5 730.50,433.9 731.00,436.6 731.50,433.8 732.00,433.9 732.50,433.4 733.00,435.1 733.50,436.0 734.00,434.4 734.50,433.7 735.00,432.2 735.50,435.1 736.00,434.6 736.50,435.0 737.00,434.6 737.50,434.4 738.00,435.4 738.50,437.0 739.00,438.0 739.50,436.6 740.00,437.3 740.50,436.5 741.00,436.7 741.50,434.7 742.00,438.3 742.50,437.8 743.00,439.1 743.50,435.7 744.00,436.8 744.50,435.1 745.00,436.8 745.50,436.1 746.00,437.3 746.50,435.9 747.00,437.1 747.50,435.2 748.00,436.8 748.50,435.3 749.00,435.0 749.50,435.8 750.00,436.2 750.50,433.3 751.00,433.1 751.50,435.9 752.00,435.5 752.50,432.3 753.00,432.8 753.50,434.4 754.00,436.1 754.50,435.9 755.00,437.2 755.50,437.4 756.00,439.3 756.50,433.2 757.00,435.4 757.50,437.2 758.00,433.4 758.50,433.2 759.00,435.8 759.50,437.2 760.00,437.5 760.50,432.7 761.00,433.7 761.50,435.6 762.00,435.0 762.50,436.5 763.00,436.3 763.50,439.0 764.00,436.1 764.50,436.5 765.00,436.4 765.50,438.0 766.00,434.4 766.50,436.7 767.00,434.7 767.50,433.5 768.00,437.6 768.50,436.4 769.00,437.6 769.50,435.7 770.00,437.7 770.50,435.2 771.00,435.8 771.50,434.2 772.00,437.5 772.50,433.3 773.00,437.5 773.50,434.4 774.00,436.1 774.50,434.9 775.00,435.4 775.50,437.0 776.00,434.8 776.50,433.0"/>
<polyline fill="none" stroke="#0000ff" stroke-width="1.35" stroke-linejoin="round" points="119.50,381.9 120.00,382.6 120.50,385.6 121.00,383.9 121.50,380.0 122.00,382.6 122.50,381.5 123.00,382.7 123.50,379.7 124.00,382.7 124.50,382.7 125.00,384.9 125.50,382.8 126.00,383.2 126.50,379.9 127.00,386.2 127.50,379.4 128.00,384.4 128.50,382.2 129.00,381.4 129.50,381.8 130.00,381.9 130.50,383.8 131.00,383.1 131.50,383.5 132.00,380.4 132.50,383.5 133.00,382.2 133.50,385.0 134.00,380.2 134.50,383.1 135.00,383.9 135.50,380.8 136.00,384.2 136.50,382.0 137.00,382.5 137.50,382.1 138.00,379.5 138.50,380.8 139.00,382.6 139.50,384.8 140.00,385.3 140.50,382.9 141.00,383.2 141.50,383.0 142.00,383.5 142.50,384.1 143.00,384.3 143.50,388.0 144.00,383.8 144.50,384.2 145.00,385.4 145.50,383.1 146.00,384.1 146.50,384.7 147.00,385.9 147.50,382.4 148.00,386.8 148.50,384.0 149.00,384.8 149.50,385.9 150.00,385.6 150.50,386.3 151.00,384.9 151.50,384.6 152.00,385.2 152.50,383.0 153.00,386.7 153.50,386.3 154.00,382.7 154.50,388.3 155.00,388.7 155.50,384.7 156.00,388.1 156.50,384.5 157.00,386.8 157.50,383.7 158.00,384.6 158.50,382.2 159.00,378.9 159.50,383.2 160.00,384.5 160.50,385.9 161.00,388.5 161.50,382.7 162.00,386.0 162.50,383.3 163.00,384.0 163.50,381.8 164.00,381.9 164.50,383.1 165.00,382.4 165.50,386.1 166.00,383.3 166.50,386.5 167.00,384.7 167.50,384.7 168.00,386.3 168.50,384.3 169.00,384.2 169.50,384.0 170.00,383.7 170.50,385.7 171.00,385.0 171.50,384.2 172.00,384.7 172.50,382.2 173.00,383.6 173.50,379.8 174.00,383.3 174.50,378.5 175.00,372.7 175.50,363.4 175.78,357.3 176.00,355.2 176.03,355.5 176.28,358.1 176.50,360.7 177.00,373.3 177.50,376.5 178.00,385.2 178.50,383.5 179.00,383.5 179.50,388.6 180.00,388.7 180.50,385.5 181.00,386.4 181.50,387.2 182.00,388.1 182.50,384.9 183.00,385.1 183.50,386.4 184.00,383.8 184.50,381.9 185.00,374.7 185.50,359.9 185.60,358.0 185.85,355.7 186.00,357.2 186.10,361.4 186.50,366.9 187.00,380.1 187.50,383.7 188.00,383.3 188.50,383.9 189.00,384.4 189.50,383.0 190.00,384.0 190.50,384.5 191.00,385.6 191.50,386.0 192.00,383.5 192.50,386.1 193.00,383.6 193.50,384.6 194.00,385.6 194.50,385.1 195.00,385.1 195.50,385.8 196.00,384.6 196.50,384.5 197.00,385.3 197.50,387.2 198.00,385.4 198.50,388.7 199.00,385.8 199.50,380.4 200.00,384.5 200.50,387.8 201.00,384.9 201.50,384.0 202.00,383.2 202.50,386.7 203.00,386.1 203.50,385.5 204.00,385.0 204.50,386.7 205.00,385.8 205.50,382.5 206.00,385.9 206.50,385.0 207.00,384.7 207.50,386.3 208.00,385.2 208.50,375.4 209.00,388.0 209.50,387.3 210.00,385.5 210.50,385.2 211.00,386.3 211.50,383.9 212.00,386.6 212.50,385.8 213.00,385.7 213.50,384.8 214.00,385.3 214.50,388.3 215.00,384.3 215.50,387.3 216.00,386.3 216.50,384.9 217.00,387.5 217.50,388.9 218.00,383.4 218.50,387.9 219.00,382.3 219.50,385.2 220.00,386.2 220.50,383.3 221.00,382.9 221.50,385.7 222.00,386.8 222.50,384.5 223.00,387.5 223.50,384.1 224.00,388.3 224.50,385.7 225.00,386.0 225.50,386.7 226.00,386.9 226.50,389.0 227.00,389.7 227.50,387.0 228.00,385.9 228.50,384.2 229.00,384.9 229.50,386.1 230.00,385.9 230.50,386.0 231.00,386.0 231.50,386.7 232.00,383.6 232.50,384.1 233.00,387.6 233.50,387.1 234.00,384.7 234.50,387.7 235.00,384.4 235.50,385.0 236.00,382.3 236.50,386.6 237.00,385.0 237.50,390.2 238.00,385.8 238.50,384.5 239.00,384.2 239.50,385.3 240.00,382.1 240.50,380.6 241.00,378.2 241.50,373.3 242.00,356.6 242.50,312.1 242.63,292.8 242.88,275.6 243.00,279.2 243.13,294.0 243.50,336.0 244.00,368.4 244.50,376.7 245.00,379.1 245.50,383.0 246.00,383.9 246.50,383.6 247.00,384.2 247.50,383.5 248.00,389.7 248.50,385.1 249.00,385.6 249.50,380.5 250.00,378.4 250.50,378.3 251.00,379.0 251.50,384.9 252.00,381.9 252.50,385.6 253.00,387.9 253.50,384.2 254.00,387.4 254.50,384.4 255.00,386.7 255.50,386.8 256.00,389.1 256.50,385.2 257.00,386.6 257.50,388.1 258.00,384.4 258.50,386.3 259.00,384.8 259.50,385.0 260.00,387.2 260.50,387.2 261.00,390.2 261.50,388.1 262.00,388.9 262.50,385.4 263.00,385.1 263.50,385.8 264.00,385.0 264.50,388.2 265.00,384.3 265.50,383.7 266.00,384.7 266.50,386.9 267.00,387.6 267.50,384.9 268.00,386.3 268.50,385.5 269.00,384.0 269.50,385.9 270.00,385.6 270.50,383.0 271.00,387.4 271.50,382.9 272.00,385.9 272.50,383.8 273.00,384.2 273.50,384.4 274.00,386.8 274.50,383.7 275.00,385.6 275.50,388.6 276.00,385.0 276.50,386.3 277.00,387.6 277.50,385.7 278.00,387.5 278.50,385.8 279.00,388.1 279.50,387.1 280.00,385.5 280.50,389.3 281.00,386.8 281.50,386.5 282.00,385.4 282.50,386.2 283.00,386.8 283.50,387.2 284.00,388.7 284.50,384.7 285.00,386.3 285.50,388.9 286.00,387.2 286.50,387.6 287.00,389.5 287.50,387.4 288.00,387.6 288.50,386.8 289.00,389.7 289.50,388.5 290.00,385.5 290.50,387.6 291.00,384.7 291.50,388.4 292.00,387.6 292.50,386.2 293.00,385.8 293.50,383.4 294.00,387.6 294.50,386.0 295.00,385.7 295.50,387.3 296.00,385.0 296.50,385.0 297.00,384.8 297.50,383.6 298.00,389.8 298.50,385.4 299.00,385.1 299.50,387.1 300.00,380.4 300.50,385.5 301.00,385.6 301.50,384.0 302.00,386.3 302.50,382.2 303.00,385.6 303.50,389.1 304.00,381.9 304.50,383.2 305.00,385.4 305.50,385.6 306.00,384.5 306.50,386.2 307.00,386.0 307.50,383.4 308.00,385.5 308.50,383.7 309.00,382.5 309.50,382.0 310.00,387.8 310.50,386.0 311.00,389.6 311.50,384.1 312.00,386.0 312.50,387.2 313.00,386.5 313.50,387.6 314.00,387.0 314.50,385.7 315.00,388.1 315.50,385.1 316.00,389.5 316.50,387.8 317.00,388.8 317.50,385.5 318.00,386.0 318.50,384.8 319.00,386.9 319.50,386.2 320.00,386.8 320.50,388.9 321.00,384.5 321.50,387.0 322.00,383.4 322.50,387.5 323.00,384.8 323.50,385.3 324.00,385.6 324.50,387.9 325.00,385.0 325.50,384.0 326.00,384.5 326.50,379.4 327.00,382.7 327.50,382.9 328.00,383.2 328.50,383.8 329.00,380.8 329.50,382.0 330.00,382.3 330.50,374.6 331.00,375.4 331.50,369.5 332.00,348.5 332.50,307.8 332.99,224.4 333.00,226.5 333.24,205.1 333.49,227.0 333.50,225.8 334.00,306.0 334.50,347.6 335.00,362.0 335.50,367.1 336.00,367.2 336.50,359.3 337.00,348.0 337.21,343.8 337.46,341.0 337.50,340.8 337.71,342.5 338.00,350.6 338.50,364.2 339.00,373.2 339.50,377.5 340.00,381.4 340.50,380.1 341.00,384.9 341.50,382.5 342.00,385.5 342.50,386.5 343.00,383.1 343.50,387.1 344.00,389.2 344.50,385.1 345.00,387.0 345.50,386.0 346.00,386.5 346.50,386.1 347.00,385.7 347.50,387.7 348.00,388.0 348.50,386.5 349.00,388.9 349.50,388.1 350.00,387.3 350.50,384.8 351.00,388.9 351.50,387.8 352.00,381.9 352.50,383.4 353.00,384.3 353.50,386.5 354.00,387.0 354.50,384.4 355.00,385.3 355.50,386.1 356.00,383.0 356.50,386.2 357.00,384.9 357.50,385.9 358.00,385.8 358.50,384.1 359.00,384.7 359.50,386.6 360.00,386.9 360.50,386.4 361.00,388.7 361.50,386.4 362.00,385.0 362.50,386.5 363.00,386.7 363.50,386.7 364.00,388.8 364.50,387.7 365.00,388.5 365.50,387.8 366.00,386.4 366.50,388.3 367.00,386.2 367.50,387.0 368.00,384.9 368.50,386.6 369.00,385.9 369.50,387.0 370.00,389.4 370.50,390.2 371.00,386.2 371.50,386.2 372.00,387.6 372.50,386.6 373.00,385.2 373.50,386.1 374.00,385.8 374.50,385.3 375.00,388.6 375.50,385.5 376.00,385.6 376.50,387.7 377.00,385.4 377.50,384.7 378.00,385.3 378.50,387.5 379.00,387.4 379.50,387.3 380.00,386.1 380.50,385.3 381.00,388.3 381.50,384.4 382.00,386.5 382.50,384.6 383.00,386.1 383.50,384.2 384.00,388.8 384.50,385.8 385.00,389.0 385.50,385.3 386.00,387.3 386.50,388.2 387.00,385.7 387.50,386.9 388.00,395.1 388.50,386.9 389.00,385.9 389.50,387.4 390.00,387.2 390.50,384.4 391.00,389.0 391.50,387.0 392.00,382.5 392.50,384.9 393.00,389.0 393.50,388.7 394.00,386.4 394.50,383.1 395.00,385.5 395.50,387.7 396.00,386.6 396.50,385.5 397.00,385.0 397.50,387.7 398.00,386.2 398.50,387.2 399.00,387.7 399.50,389.8 400.00,387.5 400.50,387.8 401.00,384.6 401.50,389.5 402.00,389.2 402.50,387.8 403.00,384.1 403.50,386.9 404.00,387.9 404.50,388.5 405.00,388.7 405.50,388.9 406.00,388.9 406.50,389.6 407.00,378.6 407.50,385.8 408.00,385.1 408.50,386.5 409.00,386.2 409.50,386.9 410.00,384.9 410.50,386.7 411.00,385.0 411.50,389.9 412.00,385.4 412.50,390.5 413.00,389.0 413.50,384.3 414.00,387.9 414.50,387.3 415.00,383.9 415.50,387.5 416.00,387.3 416.50,387.2 417.00,385.3 417.50,386.6 418.00,384.6 418.50,386.5 419.00,385.9 419.50,386.7 420.00,385.3 420.50,387.5 421.00,382.7 421.50,386.3 422.00,387.1 422.50,383.3 423.00,388.4 423.50,385.0 424.00,390.8 424.50,385.2 425.00,387.8 425.50,387.6 426.00,389.3 426.50,387.1 427.00,384.7 427.50,387.6 428.00,383.0 428.50,386.7 429.00,386.2 429.50,389.5 430.00,386.4 430.50,386.1 431.00,385.5 431.50,385.2 432.00,385.7 432.50,387.5 433.00,386.9 433.50,386.0 434.00,383.9 434.50,386.0 435.00,386.5 435.50,384.2 436.00,385.3 436.50,386.4 437.00,391.1 437.50,387.7 438.00,385.8 438.50,384.3 439.00,383.2 439.50,387.5 440.00,387.9 440.50,385.9 441.00,387.3 441.50,382.5 442.00,379.8 442.50,379.7 443.00,375.7 443.50,382.1 444.00,384.8 444.50,386.0 445.00,389.4 445.50,379.1 446.00,386.5 446.50,383.9 447.00,385.8 447.50,386.7 448.00,387.0 448.50,387.3 449.00,388.1 449.50,386.4 450.00,384.1 450.50,387.5 451.00,387.8 451.50,385.0 452.00,385.4 452.50,391.9 453.00,388.1 453.50,388.0 454.00,387.1 454.50,386.1 455.00,384.9 455.50,386.6 456.00,385.2 456.50,384.7 457.00,385.4 457.50,385.2 458.00,386.8 458.50,383.7 459.00,389.4 459.50,383.7 460.00,384.7 460.50,387.0 461.00,384.2 461.50,384.9 462.00,385.9 462.50,381.1 463.00,385.3 463.50,384.8 464.00,386.1 464.50,387.5 465.00,387.9 465.50,389.4 466.00,389.4 466.50,388.7 467.00,387.0 467.50,388.8 468.00,385.4 468.50,386.9 469.00,389.4 469.50,388.3 470.00,384.6 470.50,385.9 471.00,388.4 471.50,387.8 472.00,388.5 472.50,383.7 473.00,384.5 473.50,386.1 474.00,384.8 474.50,386.2 475.00,386.2 475.50,386.6 476.00,385.6 476.50,386.6 477.00,386.8 477.50,385.4 478.00,382.5 478.50,385.4 479.00,379.6 479.50,369.1 479.95,354.1 480.00,350.0 480.20,350.4 480.45,353.3 480.50,354.0 481.00,374.4 481.50,381.2 482.00,385.6 482.50,387.8 483.00,389.6 483.50,384.3 484.00,386.3 484.50,388.7 485.00,386.5 485.50,382.2 486.00,387.8 486.50,387.9 487.00,388.8 487.50,387.7 488.00,386.5 488.50,387.5 489.00,387.0 489.50,386.2 490.00,387.3 490.50,387.4 491.00,385.1 491.50,388.4 492.00,387.9 492.50,387.8 493.00,381.8 493.50,386.5 494.00,386.0 494.50,384.5 495.00,387.1 495.50,383.6 496.00,388.2 496.50,386.8 497.00,385.4 497.50,388.8 498.00,387.3 498.50,387.3 499.00,384.7 499.50,387.9 500.00,389.6 500.50,389.2 501.00,385.4 501.50,389.9 502.00,390.3 502.50,389.1 503.00,387.1 503.50,385.2 504.00,386.1 504.50,386.6 505.00,387.9 505.50,388.3 506.00,386.1 506.50,384.5 507.00,386.6 507.50,388.4 508.00,389.6 508.50,385.4 509.00,388.4 509.50,389.1 510.00,386.3 510.50,389.8 511.00,388.0 511.50,387.1 512.00,386.9 512.50,388.8 513.00,390.4 513.50,385.5 514.00,389.7 514.50,388.4 515.00,387.3 515.50,388.3 516.00,388.7 516.50,388.2 517.00,389.5 517.50,386.6 518.00,391.3 518.50,389.4 519.00,386.9 519.50,385.5 520.00,387.7 520.50,387.0 521.00,386.2 521.50,388.8 522.00,390.7 522.50,387.3 523.00,388.9 523.50,386.9 524.00,387.0 524.50,390.2 525.00,387.5 525.50,387.6 526.00,387.2 526.50,388.4 527.00,388.9 527.50,387.7 528.00,386.0 528.50,388.4 529.00,386.5 529.50,387.2 530.00,388.1 530.50,388.2 531.00,383.9 531.50,390.5 532.00,389.0 532.50,390.9 533.00,391.9 533.50,386.2 534.00,386.8 534.50,388.2 535.00,389.3 535.50,386.9 536.00,387.2 536.50,389.5 537.00,386.1 537.50,387.7 538.00,388.7 538.50,385.7 539.00,385.6 539.50,380.4 540.00,372.4 540.31,371.1 540.50,370.7 540.56,370.5 540.81,371.9 541.00,374.2 541.50,379.6 542.00,383.6 542.50,384.7 543.00,386.0 543.50,386.2 544.00,386.0 544.50,389.4 545.00,384.0 545.50,387.5 546.00,384.4 546.50,386.0 547.00,388.3 547.50,389.8 548.00,389.1 548.50,385.1 549.00,386.1 549.50,385.5 550.00,386.5 550.50,385.9 551.00,385.8 551.50,386.5 552.00,391.0 552.50,386.6 553.00,386.5 553.50,383.7 554.00,385.2 554.50,384.1 555.00,384.8 555.50,386.6 556.00,383.4 556.50,387.8 557.00,386.1 557.50,385.3 558.00,386.0 558.50,388.1 559.00,387.7 559.50,387.6 560.00,392.2 560.50,391.2 561.00,385.3 561.50,389.0 562.00,386.3 562.50,385.3 563.00,386.7 563.50,389.2 564.00,387.0 564.50,386.6 565.00,389.7 565.50,388.1 566.00,387.1 566.50,385.5 567.00,387.9 567.50,385.9 568.00,385.3 568.50,386.4 569.00,387.4 569.50,388.7 570.00,388.6 570.50,387.4 571.00,385.3 571.50,388.8 572.00,384.3 572.50,385.3 573.00,384.9 573.50,387.0 574.00,386.5 574.50,385.7 575.00,379.9 575.50,382.9 576.00,377.3 576.50,382.8 577.00,387.2 577.50,387.8 578.00,384.9 578.50,387.8 579.00,388.9 579.50,388.1 580.00,385.3 580.50,389.7 581.00,385.1 581.50,387.1 582.00,385.3 582.50,386.5 583.00,386.7 583.50,388.2 584.00,385.4 584.50,385.3 585.00,389.8 585.50,387.8 586.00,388.6 586.50,388.3 587.00,386.3 587.50,386.8 588.00,387.4 588.50,388.0 589.00,390.4 589.50,389.6 590.00,386.0 590.50,386.0 591.00,385.0 591.50,382.8 592.00,388.8 592.50,387.5 593.00,383.4 593.50,386.8 594.00,390.7 594.50,387.7 595.00,387.8 595.50,387.4 596.00,385.8 596.50,385.2 597.00,385.8 597.50,387.5 598.00,386.9 598.50,388.5 599.00,381.6 599.50,388.5 600.00,389.0 600.50,387.1 601.00,385.6 601.50,391.5 602.00,389.3 602.50,390.2 603.00,387.8 603.50,385.8 604.00,391.0 604.50,385.3 605.00,390.7 605.50,388.3 606.00,389.6 606.50,390.7 607.00,390.7 607.50,385.8 608.00,390.9 608.50,386.0 609.00,396.9 609.50,388.3 610.00,387.0 610.50,387.8 611.00,386.4 611.50,388.4 612.00,389.8 612.50,389.5 613.00,388.1 613.50,389.7 614.00,388.6 614.50,391.2 615.00,388.4 615.50,386.4 616.00,386.8 616.50,385.9 617.00,386.6 617.50,386.8 618.00,388.1 618.50,388.2 619.00,386.9 619.50,387.5 620.00,385.5 620.50,385.8 621.00,382.6 621.50,385.5 622.00,386.1 622.50,391.3 623.00,384.9 623.50,387.4 624.00,386.9 624.50,385.0 625.00,388.3 625.50,388.0 626.00,385.7 626.50,384.4 627.00,388.3 627.50,386.0 628.00,389.6 628.50,387.9 629.00,389.2 629.50,387.7 630.00,390.6 630.50,389.0 631.00,390.2 631.50,387.4 632.00,384.9 632.50,383.0 633.00,381.7 633.50,377.9 633.92,371.6 634.00,376.2 634.17,371.0 634.42,373.0 634.50,372.9 635.00,375.4 635.50,381.6 636.00,381.0 636.50,382.6 637.00,379.7 637.50,385.4 638.00,386.3 638.50,388.7 639.00,384.6 639.50,388.2 640.00,389.4 640.50,386.7 641.00,386.2 641.50,385.8 642.00,388.3 642.50,390.0 643.00,389.6 643.50,390.2 644.00,388.3 644.50,385.1 645.00,389.8 645.50,387.6 646.00,389.8 646.50,387.9 647.00,391.4 647.50,388.1 648.00,389.8 648.50,390.1 649.00,387.9 649.50,384.7 650.00,387.7 650.50,386.0 651.00,389.9 651.50,385.8 652.00,384.6 652.50,386.2 653.00,387.2 653.50,387.0 654.00,386.3 654.50,386.0 655.00,383.1 655.50,387.8 656.00,389.6 656.50,385.4 657.00,383.6 657.50,387.9 658.00,386.4 658.50,380.0 659.00,385.6 659.50,384.5 660.00,385.1 660.50,390.7 661.00,389.1 661.50,387.3 662.00,387.7 662.50,390.5 663.00,388.4 663.50,389.2 664.00,386.9 664.50,389.4 665.00,388.3 665.50,386.6 666.00,389.7 666.50,388.7 667.00,392.6 667.50,387.1 668.00,388.0 668.50,386.6 669.00,389.9 669.50,386.5 670.00,387.9 670.50,390.2 671.00,389.0 671.50,388.7 672.00,388.8 672.50,389.0 673.00,389.6 673.50,388.1 674.00,385.3 674.50,391.7 675.00,387.0 675.50,392.0 676.00,389.3 676.50,394.2 677.00,390.7 677.50,389.2 678.00,389.9 678.50,385.8 679.00,388.2 679.50,387.0 680.00,387.4 680.50,383.6 681.00,383.2 681.50,387.9 682.00,386.6 682.50,385.7 683.00,386.0 683.50,385.3 684.00,385.6 684.50,387.7 685.00,386.3 685.50,388.1 686.00,385.9 686.50,384.2 687.00,386.3 687.50,387.4 688.00,385.9 688.50,387.3 689.00,387.2 689.50,389.8 690.00,389.7 690.50,390.2 691.00,387.1 691.50,389.0 692.00,391.2 692.50,388.8 693.00,388.3 693.50,387.1 694.00,389.8 694.50,388.6 695.00,389.9 695.50,387.9 696.00,391.5 696.50,387.8 697.00,384.1 697.50,388.0 698.00,388.3 698.50,389.6 699.00,386.4 699.50,386.2 700.00,386.6 700.50,386.3 701.00,383.3 701.50,388.2 702.00,389.0 702.50,385.6 703.00,385.2 703.50,386.7 704.00,385.6 704.50,388.4 705.00,386.1 705.50,388.2 706.00,385.1 706.50,384.9 707.00,384.7 707.50,384.9 708.00,388.1 708.50,383.8 709.00,387.6 709.50,387.7 710.00,383.5 710.50,389.1 711.00,385.1 711.50,389.4 712.00,391.2 712.50,387.2 713.00,388.1 713.50,388.0 714.00,384.7 714.50,384.9 715.00,385.6 715.50,386.9 716.00,388.0 716.50,386.5 717.00,387.7 717.50,383.9 718.00,380.1 718.50,379.5 719.00,376.3 719.50,373.3 720.00,383.2 720.50,382.6 721.00,384.5 721.50,386.8 722.00,385.0 722.50,388.0 723.00,387.8 723.50,388.1 724.00,387.3 724.50,386.5 725.00,386.1 725.50,387.9 726.00,389.8 726.50,388.8 727.00,388.2 727.50,389.4 728.00,390.1 728.50,385.8 729.00,388.0 729.50,390.4 730.00,387.4 730.50,387.9 731.00,389.9 731.50,388.7 732.00,391.2 732.50,388.7 733.00,390.3 733.50,393.6 734.00,391.2 734.50,386.9 735.00,387.4 735.50,387.4 736.00,389.0 736.50,386.6 737.00,389.9 737.50,391.9 738.00,395.9 738.50,387.7 739.00,388.5 739.50,388.4 740.00,387.5 740.50,391.6 741.00,387.5 741.50,386.6 742.00,389.0 742.50,388.8 743.00,390.6 743.50,390.5 744.00,387.4 744.50,384.1 745.00,388.7 745.50,388.8 746.00,390.4 746.50,384.7 747.00,385.4 747.50,390.0 748.00,390.2 748.50,389.7 749.00,387.5 749.50,389.8 750.00,386.8 750.50,385.6 751.00,387.7 751.50,392.5 752.00,389.1 752.50,389.6 753.00,384.7 753.50,388.1 754.00,388.3 754.50,385.3 755.00,386.9 755.50,387.3 756.00,387.9 756.50,385.7 757.00,386.1 757.50,385.3 758.00,387.8 758.50,386.8 759.00,386.5 759.50,388.7 760.00,387.5 760.50,385.9 761.00,390.0 761.50,389.8 762.00,389.1 762.50,386.7 763.00,390.3 763.50,387.5 764.00,378.8 764.50,387.8 765.00,391.4 765.50,387.5 766.00,389.1 766.50,390.3 767.00,388.1 767.50,387.1 768.00,387.5 768.50,388.3 769.00,386.3 769.50,387.6 770.00,387.9 770.50,386.2 771.00,388.0 771.50,387.7 772.00,386.2 772.50,386.4 773.00,386.9 773.50,386.5 774.00,386.4 774.50,385.0 775.00,386.9 775.50,387.9 776.00,387.8 776.50,385.3"/>
<polyline fill="none" stroke="#008000" stroke-width="1.35" stroke-linejoin="round" points="119.50,341.7 120.00,334.0 120.50,338.9 121.00,332.6 121.50,337.4 122.00,339.1 122.50,334.8 123.00,337.8 123.50,336.8 124.00,343.8 124.50,338.7 125.00,333.9 125.50,337.9 126.00,337.3 126.50,336.7 127.00,337.8 127.50,339.3 128.00,338.2 128.50,340.2 129.00,338.3 129.50,338.7 130.00,341.3 130.50,338.6 131.00,338.1 131.50,338.5 132.00,340.0 132.50,342.4 133.00,338.9 133.50,339.0 134.00,341.1 134.50,338.1 135.00,339.2 135.50,341.2 136.00,340.7 136.50,339.9 137.00,340.9 137.50,335.1 138.00,341.4 138.50,338.0 139.00,336.8 139.50,339.9 140.00,340.4 140.50,338.3 141.00,337.1 141.50,338.8 142.00,338.5 142.50,340.8 143.00,339.5 143.50,338.5 144.00,340.0 144.50,337.8 145.00,336.6 145.50,339.1 146.00,339.2 146.50,337.5 147.00,337.2 147.50,339.0 148.00,334.6 148.50,340.0 149.00,339.9 149.50,336.5 150.00,339.4 150.50,337.8 151.00,340.7 151.50,336.2 152.00,338.0 152.50,338.2 153.00,341.5 153.50,336.0 154.00,338.7 154.50,340.1 155.00,338.5 155.50,342.2 156.00,337.6 156.50,340.1 157.00,337.8 157.50,341.8 158.00,339.4 158.50,338.7 159.00,336.4 159.50,342.3 160.00,340.3 160.50,340.2 161.00,340.7 161.50,339.3 162.00,337.5 162.50,337.2 163.00,337.1 163.50,340.7 164.00,336.0 164.50,337.5 165.00,338.0 165.50,339.1 166.00,339.8 166.50,336.9 167.00,336.2 167.50,339.1 168.00,341.2 168.50,340.5 169.00,339.7 169.50,338.8 170.00,339.8 170.50,336.8 171.00,340.5 171.50,337.7 172.00,339.1 172.50,338.7 173.00,339.3 173.50,338.3 174.00,341.1 174.50,337.2 175.00,332.9 175.50,320.8 175.78,320.6 176.00,319.0 176.03,320.5 176.28,317.1 176.50,325.4 177.00,328.7 177.50,331.6 178.00,334.5 178.50,335.8 179.00,337.7 179.50,339.1 180.00,341.7 180.50,342.6 181.00,339.9 181.50,339.0 182.00,341.7 182.50,340.0 183.00,340.7 183.50,336.0 184.00,335.8 184.50,329.6 185.00,321.0 185.43,305.5 185.50,302.2 185.68,299.7 185.93,305.2 186.00,305.3 186.50,321.4 187.00,333.8 187.50,340.9 188.00,337.7 188.50,337.9 189.00,337.2 189.50,337.1 190.00,340.3 190.50,340.9 191.00,341.2 191.50,340.2 192.00,339.9 192.50,339.9 193.00,337.3 193.50,339.1 194.00,340.1 194.50,338.7 195.00,339.3 195.50,338.8 196.00,339.7 196.50,341.8 197.00,339.8 197.50,340.3 198.00,342.0 198.50,341.8 199.00,343.6 199.50,337.4 200.00,342.3 200.50,344.4 201.00,341.2 201.50,342.3 202.00,342.7 202.50,342.6 203.00,341.1 203.50,343.5 204.00,340.4 204.50,340.6 205.00,342.1 205.50,339.9 206.00,344.3 206.50,342.4 207.00,344.3 207.50,340.6 208.00,340.0 208.50,340.9 209.00,341.8 209.50,339.5 210.00,341.1 210.50,340.4 211.00,343.1 211.50,339.3 212.00,342.1 212.50,339.4 213.00,338.9 213.50,339.4 214.00,343.7 214.50,341.0 215.00,342.5 215.50,341.1 216.00,341.9 216.50,343.6 217.00,346.8 217.50,341.3 218.00,340.5 218.50,338.3 219.00,342.2 219.50,338.1 220.00,342.1 220.50,341.1 221.00,343.0 221.50,341.1 222.00,339.9 222.50,341.9 223.00,340.4 223.50,341.0 224.00,341.3 224.50,341.0 225.00,340.8 225.50,339.6 226.00,340.6 226.50,337.2 227.00,340.3 227.50,338.4 228.00,342.0 228.50,342.1 229.00,336.6 229.50,339.9 230.00,339.3 230.50,337.7 231.00,340.2 231.50,338.4 232.00,336.2 232.50,338.6 233.00,338.8 233.50,339.2 234.00,337.0 234.50,340.1 235.00,340.3 235.50,337.3 236.00,338.1 236.50,339.1 237.00,338.2 237.50,341.9 238.00,339.2 238.50,337.0 239.00,336.9 239.50,337.5 240.00,340.5 240.50,334.8 241.00,332.6 241.50,327.5 242.00,311.2 242.50,277.5 242.63,260.9 242.88,250.4 243.00,252.7 243.13,262.6 243.50,292.8 244.00,323.2 244.50,329.5 245.00,333.7 245.50,334.2 246.00,335.9 246.50,338.9 247.00,340.4 247.50,340.6 248.00,341.9 248.50,341.6 249.00,340.9 249.50,342.6 250.00,342.6 250.50,341.7 251.00,343.4 251.50,343.3 252.00,343.0 252.50,342.2 253.00,344.1 253.50,346.1 254.00,342.6 254.50,342.8 255.00,342.6 255.50,344.7 256.00,339.5 256.50,342.9 257.00,344.1 257.50,340.6 258.00,344.1 258.50,342.4 259.00,340.4 259.50,341.4 260.00,338.4 260.50,339.9 261.00,343.7 261.50,339.2 262.00,343.6 262.50,340.4 263.00,342.1 263.50,340.5 264.00,336.7 264.50,339.5 265.00,340.7 265.50,338.5 266.00,338.2 266.50,341.1 267.00,339.5 267.50,337.9 268.00,339.6 268.50,342.3 269.00,340.2 269.50,342.7 270.00,343.7 270.50,341.3 271.00,339.4 271.50,339.0 272.00,340.8 272.50,341.8 273.00,339.9 273.50,339.3 274.00,336.7 274.50,337.8 275.00,337.1 275.50,338.2 276.00,337.3 276.50,337.3 277.00,338.3 277.50,338.4 278.00,338.8 278.50,341.5 279.00,340.3 279.50,345.4 280.00,342.2 280.50,339.8 281.00,342.2 281.50,341.7 282.00,340.2 282.50,343.4 283.00,340.5 283.50,339.8 284.00,343.4 284.50,341.3 285.00,344.9 285.50,341.4 286.00,340.6 286.50,345.0 287.00,340.7 287.50,342.7 288.00,344.6 288.50,342.2 289.00,341.6 289.50,341.7 290.00,342.6 290.50,339.6 291.00,341.7 291.50,341.3 292.00,344.0 292.50,339.3 293.00,338.1 293.50,340.7 294.00,338.7 294.50,339.7 295.00,339.4 295.50,341.1 296.00,338.0 296.50,339.0 297.00,335.0 297.50,337.8 298.00,341.9 298.50,338.4 299.00,340.1 299.50,337.8 300.00,340.9 300.50,340.4 301.00,338.1 301.50,341.5 302.00,340.9 302.50,341.9 303.00,339.7 303.50,343.8 304.00,341.7 304.50,341.0 305.00,340.4 305.50,340.9 306.00,342.8 306.50,341.0 307.00,343.2 307.50,342.4 308.00,343.6 308.50,342.7 309.00,341.2 309.50,338.0 310.00,341.5 310.50,342.2 311.00,341.1 311.50,341.6 312.00,339.8 312.50,339.8 313.00,338.8 313.50,342.5 314.00,340.5 314.50,339.4 315.00,338.0 315.50,339.9 316.00,342.5 316.50,340.9 317.00,347.5 317.50,342.6 318.00,342.7 318.50,342.0 319.00,341.8 319.50,342.5 320.00,341.5 320.50,339.8 321.00,339.4 321.50,343.2 322.00,341.1 322.50,344.0 323.00,337.2 323.50,341.6 324.00,341.9 324.50,339.6 325.00,340.8 325.50,341.2 326.00,340.8 326.50,338.8 327.00,339.2 327.50,341.0 328.00,341.1 328.50,338.9 329.00,338.4 329.50,338.1 330.00,338.6 330.50,333.8 331.00,331.1 331.50,329.3 332.00,315.3 332.50,294.5 332.99,236.9 333.00,236.9 333.24,220.7 333.49,237.8 333.50,234.1 334.00,293.8 334.50,316.3 335.00,326.0 335.50,332.8 336.00,332.3 336.50,331.2 337.00,329.8 337.50,328.7 338.00,327.2 338.50,329.8 339.00,333.5 339.50,333.7 340.00,336.4 340.50,337.2 341.00,340.4 341.50,340.5 342.00,338.5 342.50,339.4 343.00,339.5 343.50,341.5 344.00,339.7 344.50,342.0 345.00,342.1 345.50,339.9 346.00,341.1 346.50,341.1 347.00,344.3 347.50,345.7 348.00,341.2 348.50,341.3 349.00,337.5 349.50,341.5 350.00,341.0 350.50,339.1 351.00,342.1 351.50,338.1 352.00,340.3 352.50,340.9 353.00,338.6 353.50,342.1 354.00,342.6 354.50,338.6 355.00,338.7 355.50,342.1 356.00,341.2 356.50,339.3 357.00,340.9 357.50,341.3 358.00,341.2 358.50,342.8 359.00,342.0 359.50,344.3 360.00,343.5 360.50,342.3 361.00,342.9 361.50,343.2 362.00,342.2 362.50,338.9 363.00,342.3 363.50,341.0 364.00,343.6 364.50,341.1 365.00,341.8 365.50,341.5 366.00,343.7 366.50,341.3 367.00,340.5 367.50,341.5 368.00,340.3 368.50,341.3 369.00,341.0 369.50,341.4 370.00,344.1 370.50,340.2 371.00,340.8 371.50,340.3 372.00,341.7 372.50,338.5 373.00,339.2 373.50,340.2 374.00,341.1 374.50,340.0 375.00,339.2 375.50,338.6 376.00,340.8 376.50,342.8 377.00,340.6 377.50,340.4 378.00,340.9 378.50,338.8 379.00,339.9 379.50,340.1 380.00,337.8 380.50,340.7 381.00,339.7 381.50,342.8 382.00,343.8 382.50,340.7 383.00,341.8 383.50,341.7 384.00,342.6 384.50,338.9 385.00,344.0 385.50,340.6 386.00,343.5 386.50,341.6 387.00,340.9 387.50,341.3 388.00,343.0 388.50,340.1 389.00,340.9 389.50,340.7 390.00,338.7 390.50,343.6 391.00,342.3 391.50,341.2 392.00,343.0 392.50,339.4 393.00,340.7 393.50,343.5 394.00,342.1 394.50,336.7 395.00,334.8 395.50,338.5 396.00,341.9 396.50,339.3 397.00,339.8 397.50,341.1 398.00,338.6 398.50,340.5 399.00,341.4 399.50,340.8 400.00,340.7 400.50,339.0 401.00,340.8 401.50,339.1 402.00,341.9 402.50,344.0 403.00,338.5 403.50,336.1 404.00,339.0 404.50,340.4 405.00,341.6 405.50,341.8 406.00,338.8 406.50,339.0 407.00,342.5 407.50,338.8 408.00,342.7 408.50,340.7 409.00,342.5 409.50,342.6 410.00,342.9 410.50,343.1 411.00,340.2 411.50,342.4 412.00,342.0 412.50,342.5 413.00,344.0 413.50,341.5 414.00,340.7 414.50,340.7 415.00,341.3 415.50,343.1 416.00,340.5 416.50,343.8 417.00,342.4 417.50,341.6 418.00,339.8 418.50,342.4 419.00,343.2 419.50,339.1 420.00,344.0 420.50,344.7 421.00,342.5 421.50,342.6 422.00,345.7 422.50,343.6 423.00,340.0 423.50,341.3 424.00,341.0 424.50,340.9 425.00,337.2 425.50,342.3 426.00,340.0 426.50,341.3 427.00,340.9 427.50,342.6 428.00,340.7 428.50,339.9 429.00,342.2 429.50,343.6 430.00,340.8 430.50,343.6 431.00,341.8 431.50,340.5 432.00,343.9 432.50,340.0 433.00,343.0 433.50,340.4 434.00,341.9 434.50,339.1 435.00,339.7 435.50,342.8 436.00,341.3 436.50,343.3 437.00,340.2 437.50,341.7 438.00,337.3 438.50,339.1 439.00,340.6 439.50,339.5 440.00,334.3 440.50,340.3 441.00,339.4 441.50,337.3 442.00,336.6 442.50,331.0 443.00,331.5 443.50,333.9 444.00,336.8 444.50,337.1 445.00,339.7 445.50,337.1 446.00,339.8 446.50,342.1 447.00,343.7 447.50,342.7 448.00,339.8 448.50,342.1 449.00,340.2 449.50,342.9 450.00,341.5 450.50,343.2 451.00,346.2 451.50,343.6 452.00,345.7 452.50,342.6 453.00,341.9 453.50,344.8 454.00,345.6 454.50,342.0 455.00,343.2 455.50,340.8 456.00,343.0 456.50,344.9 457.00,343.4 457.50,342.6 458.00,341.2 458.50,344.2 459.00,344.8 459.50,344.5 460.00,343.8 460.50,341.2 461.00,346.1 461.50,343.0 462.00,342.8 462.50,344.1 463.00,339.2 463.50,342.5 464.00,342.3 464.50,343.0 465.00,344.5 465.50,342.9 466.00,339.0 466.50,341.3 467.00,342.1 467.50,341.9 468.00,339.4 468.50,338.7 469.00,342.3 469.50,341.9 470.00,341.2 470.50,338.3 471.00,344.0 471.50,336.3 472.00,340.4 472.50,344.4 473.00,340.5 473.50,341.1 474.00,338.6 474.50,342.7 475.00,336.6 475.50,340.6 476.00,340.2 476.50,338.0 477.00,341.0 477.50,336.8 478.00,337.4 478.50,337.1 479.00,332.5 479.50,324.1 479.95,312.7 480.00,309.8 480.20,308.5 480.45,310.8 480.50,312.3 481.00,328.0 481.50,334.9 482.00,339.2 482.50,339.5 483.00,338.7 483.50,341.7 484.00,338.7 484.50,339.2 485.00,342.8 485.50,338.6 486.00,340.3 486.50,337.7 487.00,339.5 487.50,337.9 488.00,339.9 488.50,339.7 489.00,340.9 489.50,343.4 490.00,341.3 490.50,342.1 491.00,341.1 491.50,340.9 492.00,340.1 492.50,338.7 493.00,341.9 493.50,344.7 494.00,342.9 494.50,341.4 495.00,345.2 495.50,341.8 496.00,341.6 496.50,340.7 497.00,341.2 497.50,342.3 498.00,346.0 498.50,342.4 499.00,336.5 499.50,341.6 500.00,342.1 500.50,339.6 501.00,342.6 501.50,343.9 502.00,342.8 502.50,343.3 503.00,340.2 503.50,339.5 504.00,344.5 504.50,344.2 505.00,339.9 505.50,342.9 506.00,342.6 506.50,343.5 507.00,343.5 507.50,341.8 508.00,342.9 508.50,342.8 509.00,342.5 509.50,339.5 510.00,337.6 510.50,341.2 511.00,339.8 511.50,343.0 512.00,343.8 512.50,343.2 513.00,342.2 513.50,343.0 514.00,344.9 514.50,341.8 515.00,344.5 515.50,344.2 516.00,343.4 516.50,340.4 517.00,341.6 517.50,344.3 518.00,341.1 518.50,341.3 519.00,340.7 519.50,343.2 520.00,340.8 520.50,342.4 521.00,340.3 521.50,343.9 522.00,345.1 522.50,342.3 523.00,344.5 523.50,338.3 524.00,345.1 524.50,341.5 525.00,345.6 525.50,338.7 526.00,340.7 526.50,339.1 527.00,339.7 527.50,338.1 528.00,340.5 528.50,339.1 529.00,343.4 529.50,342.1 530.00,338.4 530.50,338.8 531.00,340.4 531.50,338.3 532.00,341.4 532.50,341.5 533.00,340.4 533.50,340.8 534.00,342.5 534.50,344.0 535.00,344.0 535.50,341.5 536.00,342.8 536.50,340.0 537.00,341.7 537.50,339.1 538.00,341.4 538.50,337.3 539.00,335.8 539.50,333.7 540.00,329.1 540.31,322.7 540.50,323.3 540.56,324.6 540.81,325.5 541.00,325.5 541.50,332.7 542.00,336.4 542.50,341.4 543.00,341.2 543.50,338.7 544.00,337.6 544.50,346.8 545.00,343.7 545.50,346.7 546.00,343.5 546.50,341.4 547.00,340.0 547.50,343.5 548.00,342.4 548.50,343.4 549.00,340.0 549.50,342.6 550.00,341.4 550.50,343.8 551.00,341.6 551.50,341.6 552.00,341.8 552.50,344.9 553.00,343.0 553.50,341.8 554.00,341.5 554.50,341.5 555.00,345.7 555.50,340.3 556.00,341.8 556.50,344.2 557.00,352.0 557.50,342.7 558.00,344.1 558.50,343.9 559.00,344.1 559.50,342.4 560.00,344.9 560.50,342.3 561.00,344.3 561.50,339.7 562.00,342.9 562.50,339.0 563.00,338.4 563.50,341.6 564.00,339.2 564.50,341.2 565.00,342.8 565.50,342.9 566.00,340.3 566.50,338.4 567.00,340.7 567.50,341.9 568.00,339.3 568.50,341.6 569.00,344.2 569.50,342.5 570.00,341.1 570.50,340.3 571.00,342.3 571.50,338.9 572.00,336.4 572.50,340.2 573.00,339.3 573.50,343.5 574.00,340.2 574.50,337.2 575.00,335.6 575.50,337.5 576.00,335.5 576.50,336.9 577.00,338.9 577.50,340.0 578.00,340.6 578.50,340.9 579.00,343.0 579.50,340.1 580.00,338.2 580.50,345.2 581.00,341.1 581.50,342.9 582.00,339.6 582.50,341.3 583.00,341.1 583.50,340.9 584.00,342.1 584.50,341.7 585.00,339.0 585.50,340.5 586.00,341.9 586.50,341.9 587.00,340.2 587.50,340.4 588.00,340.7 588.50,339.3 589.00,339.1 589.50,343.9 590.00,340.7 590.50,341.6 591.00,340.3 591.50,343.8 592.00,344.6 592.50,341.3 593.00,340.5 593.50,340.4 594.00,344.6 594.50,343.1 595.00,340.1 595.50,343.5 596.00,341.9 596.50,341.8 597.00,341.6 597.50,339.8 598.00,339.9 598.50,341.7 599.00,345.8 599.50,339.0 600.00,343.9 600.50,340.2 601.00,339.6 601.50,339.4 602.00,341.8 602.50,342.4 603.00,341.3 603.50,342.5 604.00,338.7 604.50,340.7 605.00,340.7 605.50,341.6 606.00,342.6 606.50,338.5 607.00,347.1 607.50,340.5 608.00,342.5 608.50,343.3 609.00,347.3 609.50,342.4 610.00,337.2 610.50,340.2 611.00,343.3 611.50,340.6 612.00,340.5 612.50,338.4 613.00,344.4 613.50,343.3 614.00,341.1 614.50,342.4 615.00,342.5 615.50,340.8 616.00,342.2 616.50,343.0 617.00,343.4 617.50,344.5 618.00,342.4 618.50,341.4 619.00,342.8 619.50,340.9 620.00,339.8 620.50,343.7 621.00,341.1 621.50,341.9 622.00,342.7 622.50,339.8 623.00,342.7 623.50,342.4 624.00,341.5 624.50,342.3 625.00,340.4 625.50,338.0 626.00,341.1 626.50,340.1 627.00,343.0 627.50,342.0 628.00,340.6 628.50,341.5 629.00,343.6 629.50,343.2 630.00,341.9 630.50,341.9 631.00,340.7 631.50,340.7 632.00,341.5 632.50,339.2 633.00,337.4 633.50,330.3 634.00,324.6 634.50,325.7 635.00,333.1 635.50,339.9 636.00,341.6 636.50,338.7 637.00,338.1 637.50,342.1 638.00,341.6 638.50,338.6 639.00,342.6 639.50,341.1 640.00,343.0 640.50,341.4 641.00,342.3 641.50,341.3 642.00,339.2 642.50,340.4 643.00,339.7 643.50,342.1 644.00,339.1 644.50,338.3 645.00,341.9 645.50,342.7 646.00,343.2 646.50,342.6 647.00,338.3 647.50,339.6 648.00,339.8 648.50,340.6 649.00,337.0 649.50,340.5 650.00,341.0 650.50,339.0 651.00,340.8 651.50,342.6 652.00,340.9 652.50,342.7 653.00,342.8 653.50,342.0 654.00,342.1 654.50,341.0 655.00,343.8 655.50,341.1 656.00,340.8 656.50,347.2 657.00,340.8 657.50,345.2 658.00,343.7 658.50,342.0 659.00,342.0 659.50,343.2 660.00,342.9 660.50,339.1 661.00,339.4 661.50,343.7 662.00,342.1 662.50,338.1 663.00,339.3 663.50,341.6 664.00,342.4 664.50,342.4 665.00,341.8 665.50,342.5 666.00,339.8 666.50,342.7 667.00,345.0 667.50,340.4 668.00,343.9 668.50,343.4 669.00,342.8 669.50,341.6 670.00,338.3 670.50,340.2 671.00,342.9 671.50,343.3 672.00,343.6 672.50,343.2 673.00,343.0 673.50,340.8 674.00,339.4 674.50,339.6 675.00,342.2 675.50,341.5 676.00,338.9 676.50,340.5 677.00,339.0 677.50,341.8 678.00,339.9 678.50,341.5 679.00,342.5 679.50,342.3 680.00,342.6 680.50,340.5 681.00,338.7 681.50,343.9 682.00,344.7 682.50,344.6 683.00,342.6 683.50,342.9 684.00,342.1 684.50,339.6 685.00,340.6 685.50,342.1 686.00,340.2 686.50,344.1 687.00,338.3 687.50,340.0 688.00,342.4 688.50,339.5 689.00,338.6 689.50,338.2 690.00,339.2 690.50,342.9 691.00,341.1 691.50,341.3 692.00,339.6 692.50,341.8 693.00,340.7 693.50,339.0 694.00,339.8 694.50,340.9 695.00,342.6 695.50,340.6 696.00,341.7 696.50,344.3 697.00,339.8 697.50,339.2 698.00,343.0 698.50,342.2 699.00,341.5 699.50,342.2 700.00,341.3 700.50,342.8 701.00,338.3 701.50,343.4 702.00,340.2 702.50,340.9 703.00,342.5 703.50,341.5 704.00,343.5 704.50,342.4 705.00,341.6 705.50,335.2 706.00,341.8 706.50,340.1 707.00,340.9 707.50,341.5 708.00,342.1 708.50,343.1 709.00,344.5 709.50,343.9 710.00,345.9 710.50,345.1 711.00,342.6 711.50,345.5 712.00,344.6 712.50,341.8 713.00,342.9 713.50,344.0 714.00,342.4 714.50,343.4 715.00,342.2 715.50,342.4 716.00,340.4 716.50,341.1 717.00,339.2 717.50,331.9 718.00,333.1 718.50,332.5 719.00,331.0 719.50,331.3 720.00,334.2 720.50,338.1 721.00,337.5 721.50,338.2 722.00,339.3 722.50,339.9 723.00,338.2 723.50,338.9 724.00,342.2 724.50,338.1 725.00,339.5 725.50,340.9 726.00,342.9 726.50,340.1 727.00,337.7 727.50,341.9 728.00,341.2 728.50,339.5 729.00,339.6 729.50,340.2 730.00,341.5 730.50,342.4 731.00,338.8 731.50,343.6 732.00,341.2 732.50,340.7 733.00,342.5 733.50,341.7 734.00,345.5 734.50,343.5 735.00,341.2 735.50,341.3 736.00,341.2 736.50,341.6 737.00,343.3 737.50,342.5 738.00,344.9 738.50,342.2 739.00,342.0 739.50,343.8 740.00,338.9 740.50,340.6 741.00,343.1 741.50,342.1 742.00,339.9 742.50,342.6 743.00,341.0 743.50,341.7 744.00,339.7 744.50,338.8 745.00,344.0 745.50,340.4 746.00,340.7 746.50,344.2 747.00,343.7 747.50,341.1 748.00,341.1 748.50,341.9 749.00,340.5 749.50,343.0 750.00,342.4 750.50,342.3 751.00,343.4 751.50,343.3 752.00,345.1 752.50,344.5 753.00,339.1 753.50,343.4 754.00,340.0 754.50,339.4 755.00,342.9 755.50,340.5 756.00,337.9 756.50,343.4 757.00,340.5 757.50,340.1 758.00,342.2 758.50,343.7 759.00,342.6 759.50,335.8 760.00,339.5 760.50,341.7 761.00,345.2 761.50,343.6 762.00,343.6 762.50,344.2 763.00,341.7 763.50,342.9 764.00,342.9 764.50,340.4 765.00,342.0 765.50,342.8 766.00,340.0 766.50,343.1 767.00,342.9 767.50,343.3 768.00,340.3 768.50,341.7 769.00,343.9 769.50,342.5 770.00,340.1 770.50,341.7 771.00,343.7 771.50,341.1 772.00,341.9 772.50,345.4 773.00,341.1 773.50,341.0 774.00,339.5 774.50,340.1 775.00,343.7 775.50,341.1 776.00,339.5 776.50,340.0"/>
<polyline fill="none" stroke="#800000" stroke-width="1.35" stroke-linejoin="round" points="119.50,297.4 120.00,296.4 120.50,296.6 121.00,293.7 121.50,299.7 122.00,298.8 122.50,296.7 123.00,298.3 123.50,297.5 124.00,296.3 124.50,298.4 125.00,296.5 125.50,296.4 126.00,295.7 126.50,297.4 127.00,296.5 127.50,297.3 128.00,295.6 128.50,296.6 129.00,295.1 129.50,297.5 130.00,296.6 130.50,296.8 131.00,296.9 131.50,294.9 132.00,297.5 132.50,299.4 133.00,294.1 133.50,294.0 134.00,292.7 134.50,297.7 135.00,296.7 135.50,298.0 136.00,297.5 136.50,296.8 137.00,296.9 137.50,296.2 138.00,297.7 138.50,294.9 139.00,295.9 139.50,296.9 140.00,299.1 140.50,295.5 141.00,295.0 141.50,295.7 142.00,297.9 142.50,296.1 143.00,298.3 143.50,293.6 144.00,297.9 144.50,299.3 145.00,294.1 145.50,296.4 146.00,297.9 146.50,296.3 147.00,297.7 147.50,299.7 148.00,296.8 148.50,296.1 149.00,295.5 149.50,297.6 150.00,296.5 150.50,296.6 151.00,296.7 151.50,297.9 152.00,295.5 152.50,294.9 153.00,293.7 153.50,298.9 154.00,297.4 154.50,299.4 155.00,303.3 155.50,296.3 156.00,298.0 156.50,297.2 157.00,295.5 157.50,296.0 158.00,299.7 158.50,297.7 159.00,297.8 159.50,294.0 160.00,296.2 160.50,298.5 161.00,297.2 161.50,296.3 162.00,297.2 162.50,296.1 163.00,297.7 163.50,299.0 164.00,296.2 164.50,299.3 165.00,296.2 165.50,297.3 166.00,295.8 166.50,296.6 167.00,296.9 167.50,296.1 168.00,295.7 168.50,295.7 169.00,295.4 169.50,294.2 170.00,296.0 170.50,296.8 171.00,297.2 171.50,296.5 172.00,298.6 172.50,294.6 173.00,292.1 173.50,292.9 174.00,284.9 174.50,282.3 175.00,272.7 175.50,268.0 175.78,262.3 176.00,265.6 176.03,264.7 176.28,263.5 176.50,269.1 177.00,274.1 177.50,279.8 178.00,284.3 178.50,289.2 179.00,291.5 179.50,294.3 180.00,295.2 180.50,293.6 181.00,294.0 181.50,294.1 182.00,292.9 182.50,293.8 183.00,294.0 183.50,294.2 184.00,292.8 184.50,284.1 185.00,275.5 185.43,264.2 185.50,266.7 185.68,263.6 185.93,265.7 186.00,266.5 186.50,277.5 187.00,288.2 187.50,292.1 188.00,295.1 188.50,293.3 189.00,297.1 189.50,295.3 190.00,299.4 190.50,296.8 191.00,299.0 191.50,295.6 192.00,298.3 192.50,299.4 193.00,297.3 193.50,298.1 194.00,297.7 194.50,298.6 195.00,299.3 195.50,299.3 196.00,298.3 196.50,296.5 197.00,297.4 197.50,298.3 198.00,295.6 198.50,299.8 199.00,298.4 199.50,298.5 200.00,300.2 200.50,299.8 201.00,299.2 201.50,297.5 202.00,299.4 202.50,299.4 203.00,297.7 203.50,300.5 204.00,299.8 204.50,296.3 205.00,299.3 205.50,297.3 206.00,300.8 206.50,300.3 207.00,297.6 207.50,297.9 208.00,302.4 208.50,298.8 209.00,301.3 209.50,300.1 210.00,298.6 210.50,299.8 211.00,296.0 211.50,301.1 212.00,300.1 212.50,298.5 213.00,297.7 213.50,299.5 214.00,301.4 214.50,298.9 215.00,296.9 215.50,300.5 216.00,295.7 216.50,299.1 217.00,297.6 217.50,299.8 218.00,297.3 218.50,300.5 219.00,299.2 219.50,296.4 220.00,296.2 220.50,298.7 221.00,301.2 221.50,299.6 222.00,299.6 222.50,299.3 223.00,300.7 223.50,300.2 224.00,300.0 224.50,298.1 225.00,301.2 225.50,301.3 226.00,297.3 226.50,302.3 227.00,299.9 227.50,298.0 228.00,295.8 228.50,299.4 229.00,299.1 229.50,297.3 230.00,295.5 230.50,299.6 231.00,297.1 231.50,297.2 232.00,301.8 232.50,300.7 233.00,299.0 233.50,296.9 234.00,298.4 234.50,294.2 235.00,297.5 235.50,296.2 236.00,295.3 236.50,294.8 237.00,297.7 237.50,296.9 238.00,296.8 238.50,297.4 239.00,294.6 239.50,293.5 240.00,291.7 240.50,292.2 241.00,290.9 241.50,283.4 242.00,267.6 242.50,223.5 242.63,211.3 242.88,198.8 243.00,200.1 243.13,214.8 243.50,250.2 244.00,276.3 244.50,286.7 245.00,292.0 245.50,292.2 246.00,296.2 246.50,294.6 247.00,296.6 247.50,296.1 248.00,297.3 248.50,296.4 249.00,296.3 249.50,297.3 250.00,297.9 250.50,298.6 251.00,299.2 251.50,301.7 252.00,300.3 252.50,298.7 253.00,300.1 253.50,298.0 254.00,300.9 254.50,299.6 255.00,296.8 255.50,299.8 256.00,299.9 256.50,294.8 257.00,297.6 257.50,298.0 258.00,295.9 258.50,297.2 259.00,297.4 259.50,299.5 260.00,299.1 260.50,302.5 261.00,298.1 261.50,300.3 262.00,298.7 262.50,299.0 263.00,296.9 263.50,295.8 264.00,297.4 264.50,299.6 265.00,300.8 265.50,299.4 266.00,299.2 266.50,297.3 267.00,298.0 267.50,300.3 268.00,297.6 268.50,298.2 269.00,296.7 269.50,300.2 270.00,298.5 270.50,297.6 271.00,298.4 271.50,298.4 272.00,297.1 272.50,295.9 273.00,295.8 273.50,295.2 274.00,300.4 274.50,300.9 275.00,295.3 275.50,298.0 276.00,298.5 276.50,296.6 277.00,298.4 277.50,296.7 278.00,300.2 278.50,297.8 279.00,299.0 279.50,300.0 280.00,297.1 280.50,296.8 281.00,298.8 281.50,300.8 282.00,299.7 282.50,303.1 283.00,298.4 283.50,300.1 284.00,300.9 284.50,299.8 285.00,302.4 285.50,299.2 286.00,297.9 286.50,296.9 287.00,300.7 287.50,298.8 288.00,300.2 288.50,299.4 289.00,301.0 289.50,300.4 290.00,298.0 290.50,299.0 291.00,300.2 291.50,299.5 292.00,300.8 292.50,300.5 293.00,300.2 293.50,298.6 294.00,299.3 294.50,297.3 295.00,299.0 295.50,298.1 296.00,299.1 296.50,298.3 297.00,299.5 297.50,300.8 298.00,297.2 298.50,300.5 299.00,296.3 299.50,296.1 300.00,299.0 300.50,299.2 301.00,299.8 301.50,296.8 302.00,299.0 302.50,299.2 303.00,300.7 303.50,298.6 304.00,299.4 304.50,297.2 305.00,298.2 305.50,297.7 306.00,299.3 306.50,296.9 307.00,297.1 307.50,299.2 308.00,301.0 308.50,299.1 309.00,299.1 309.50,298.3 310.00,300.5 310.50,299.8 311.00,301.6 311.50,299.6 312.00,297.8 312.50,298.4 313.00,297.8 313.50,297.4 314.00,300.9 314.50,300.2 315.00,297.3 315.50,301.6 316.00,299.4 316.50,297.7 317.00,299.6 317.50,299.0 318.00,298.0 318.50,296.3 319.00,297.6 319.50,299.5 320.00,295.3 320.50,299.9 321.00,299.8 321.50,298.2 322.00,298.9 322.50,298.3 323.00,297.4 323.50,298.1 324.00,300.5 324.50,296.5 325.00,298.9 325.50,298.8 326.00,297.5 326.50,297.9 327.00,296.5 327.50,297.2 328.00,298.2 328.50,298.4 329.00,296.3 329.50,301.3 330.00,295.1 330.50,294.6 331.00,291.5 331.50,286.6 332.00,278.3 332.50,246.5 332.99,188.5 333.00,187.4 333.24,169.1 333.49,187.6 333.50,185.8 334.00,251.3 334.50,275.0 335.00,284.3 335.50,286.9 336.00,289.0 336.50,289.2 337.00,285.8 337.50,282.0 338.00,281.8 338.50,286.0 339.00,293.0 339.50,291.9 340.00,295.6 340.50,296.1 341.00,295.8 341.50,296.5 342.00,297.3 342.50,299.9 343.00,298.7 343.50,298.4 344.00,300.1 344.50,299.7 345.00,299.1 345.50,300.0 346.00,298.3 346.50,300.4 347.00,299.7 347.50,298.8 348.00,297.6 348.50,301.4 349.00,299.3 349.50,303.4 350.00,298.0 350.50,300.1 351.00,298.1 351.50,299.0 352.00,299.8 352.50,297.4 353.00,298.4 353.50,298.7 354.00,298.7 354.50,299.4 355.00,300.1 355.50,299.9 356.00,299.2 356.50,296.2 357.00,294.7 357.50,298.2 358.00,298.6 358.50,300.4 359.00,299.0 359.50,297.9 360.00,300.6 360.50,298.7 361.00,298.8 361.50,299.5 362.00,300.5 362.50,296.4 363.00,298.2 363.50,300.0 364.00,299.1 364.50,298.3 365.00,298.7 365.50,301.4 366.00,298.7 366.50,300.2 367.00,300.3 367.50,298.5 368.00,299.7 368.50,298.5 369.00,298.2 369.50,297.5 370.00,300.4 370.50,298.6 371.00,298.4 371.50,297.5 372.00,301.7 372.50,300.2 373.00,298.9 373.50,298.1 374.00,296.9 374.50,299.6 375.00,302.4 375.50,297.2 376.00,303.7 376.50,300.4 377.00,298.0 377.50,298.7 378.00,299.0 378.50,300.0 379.00,299.6 379.50,297.6 380.00,302.1 380.50,300.6 381.00,302.0 381.50,302.0 382.00,299.9 382.50,300.7 383.00,301.2 383.50,301.2 384.00,299.8 384.50,299.1 385.00,300.0 385.50,299.3 386.00,299.0 386.50,296.8 387.00,299.8 387.50,298.2 388.00,298.8 388.50,299.5 389.00,300.0 389.50,302.3 390.00,299.9 390.50,297.7 391.00,300.0 391.50,299.0 392.00,300.5 392.50,299.0 393.00,299.0 393.50,299.3 394.00,299.2 394.50,297.5 395.00,299.1 395.50,300.0 396.00,301.6 396.50,299.4 397.00,299.2 397.50,300.4 398.00,300.2 398.50,301.6 399.00,300.1 399.50,299.1 400.00,300.9 400.50,301.1 401.00,298.2 401.50,299.0 402.00,296.3 402.50,298.2 403.00,297.4 403.50,298.4 404.00,298.8 404.50,298.5 405.00,298.7 405.50,299.6 406.00,299.3 406.50,298.2 407.00,297.2 407.50,300.9 408.00,301.2 408.50,298.6 409.00,300.1 409.50,297.2 410.00,297.2 410.50,299.1 411.00,301.6 411.50,298.1 412.00,298.4 412.50,301.9 413.00,296.9 413.50,300.6 414.00,298.8 414.50,299.3 415.00,299.9 415.50,303.3 416.00,297.2 416.50,299.0 417.00,299.0 417.50,298.3 418.00,297.3 418.50,301.5 419.00,299.5 419.50,296.6 420.00,298.1 420.50,299.7 421.00,299.7 421.50,297.1 422.00,299.0 422.50,299.5 423.00,299.7 423.50,299.8 424.00,296.6 424.50,301.9 425.00,299.6 425.50,302.0 426.00,303.6 426.50,299.4 427.00,298.0 427.50,301.1 428.00,299.8 428.50,299.6 429.00,299.0 429.50,303.1 430.00,300.2 430.50,299.1 431.00,300.6 431.50,299.8 432.00,301.9 432.50,301.2 433.00,300.4 433.50,302.9 434.00,301.1 434.50,303.1 435.00,303.9 435.50,301.5 436.00,301.0 436.50,302.1 437.00,303.0 437.50,301.5 438.00,301.6 438.50,301.2 439.00,301.4 439.50,301.7 440.00,299.5 440.50,299.5 441.00,299.7 441.50,297.2 442.00,295.7 442.50,293.2 443.00,291.4 443.50,294.8 444.00,297.1 444.50,302.1 445.00,301.4 445.50,298.8 446.00,299.3 446.50,303.3 447.00,302.8 447.50,300.9 448.00,302.4 448.50,298.6 449.00,300.7 449.50,303.6 450.00,298.0 450.50,299.6 451.00,301.8 451.50,302.3 452.00,299.8 452.50,301.1 453.00,303.0 453.50,300.1 454.00,298.8 454.50,300.6 455.00,300.1 455.50,302.5 456.00,300.9 456.50,299.5 457.00,304.0 457.50,299.9 458.00,301.2 458.50,301.5 459.00,301.6 459.50,300.7 460.00,303.4 460.50,300.4 461.00,298.4 461.50,300.0 462.00,300.0 462.50,300.0 463.00,300.4 463.50,299.2 464.00,301.9 464.50,302.2 465.00,296.8 465.50,299.9 466.00,298.9 466.50,296.2 467.00,300.5 467.50,299.1 468.00,299.5 468.50,303.9 469.00,301.8 469.50,302.0 470.00,300.7 470.50,301.4 471.00,300.3 471.50,300.6 472.00,299.3 472.50,300.4 473.00,299.3 473.50,300.8 474.00,301.4 474.50,300.6 475.00,301.8 475.50,303.8 476.00,296.9 476.50,299.8 477.00,298.8 477.50,298.7 478.00,296.8 478.50,297.4 479.00,293.2 479.50,284.3 479.95,275.4 480.00,274.0 480.20,273.1 480.45,276.9 480.50,275.7 481.00,285.3 481.50,294.3 482.00,296.0 482.50,294.9 483.00,299.9 483.50,298.3 484.00,298.9 484.50,299.6 485.00,301.6 485.50,301.6 486.00,300.3 486.50,299.1 487.00,299.8 487.50,302.1 488.00,303.2 488.50,301.4 489.00,299.8 489.50,302.2 490.00,300.2 490.50,300.1 491.00,300.3 491.50,301.4 492.00,300.9 492.50,301.9 493.00,302.2 493.50,301.0 494.00,296.9 494.50,297.7 495.00,305.6 495.50,299.9 496.00,303.0 496.50,299.8 497.00,299.6 497.50,301.1 498.00,301.2 498.50,299.3 499.00,300.2 499.50,297.9 500.00,298.1 500.50,299.2 501.00,297.3 501.50,300.6 502.00,300.2 502.50,300.3 503.00,300.5 503.50,299.9 504.00,296.1 504.50,297.7 505.00,298.2 505.50,300.4 506.00,297.4 506.50,298.0 507.00,298.5 507.50,300.9 508.00,297.0 508.50,297.1 509.00,300.0 509.50,296.1 510.00,299.7 510.50,298.7 511.00,297.2 511.50,299.0 512.00,298.3 512.50,300.1 513.00,301.5 513.50,302.3 514.00,300.3 514.50,300.7 515.00,299.8 515.50,300.8 516.00,302.4 516.50,297.6 517.00,302.0 517.50,300.3 518.00,301.2 518.50,301.6 519.00,302.3 519.50,301.3 520.00,300.3 520.50,301.2 521.00,300.6 521.50,300.2 522.00,300.6 522.50,301.4 523.00,300.1 523.50,300.0 524.00,297.7 524.50,299.2 525.00,296.5 525.50,300.0 526.00,297.5 526.50,300.5 527.00,302.8 527.50,297.8 528.00,300.2 528.50,298.8 529.00,297.4 529.50,297.0 530.00,299.1 530.50,300.4 531.00,299.1 531.50,296.6 532.00,297.4 532.50,298.8 533.00,301.2 533.50,299.8 534.00,300.0 534.50,301.3 535.00,299.3 535.50,299.5 536.00,299.4 536.50,297.0 537.00,300.1 537.50,299.8 538.00,300.2 538.50,296.2 539.00,294.7 539.50,292.9 540.00,285.6 540.31,283.6 540.50,279.3 540.56,279.6 540.81,280.4 541.00,283.6 541.50,287.8 542.00,294.5 542.50,288.4 543.00,292.7 543.50,292.4 544.00,298.8 544.50,299.4 545.00,301.6 545.50,298.2 546.00,299.5 546.50,300.3 547.00,298.9 547.50,297.2 548.00,299.9 548.50,299.7 549.00,302.9 549.50,297.6 550.00,303.1 550.50,302.0 551.00,300.0 551.50,302.0 552.00,299.9 552.50,301.2 553.00,298.8 553.50,300.0 554.00,298.4 554.50,297.6 555.00,299.5 555.50,298.8 556.00,300.5 556.50,301.5 557.00,299.3 557.50,299.5 558.00,299.6 558.50,296.8 559.00,299.5 559.50,299.0 560.00,298.9 560.50,297.3 561.00,296.0 561.50,298.4 562.00,299.2 562.50,300.7 563.00,300.4 563.50,300.9 564.00,299.4 564.50,300.6 565.00,298.7 565.50,300.0 566.00,300.5 566.50,303.0 567.00,299.6 567.50,297.5 568.00,301.3 568.50,298.3 569.00,299.7 569.50,299.1 570.00,298.3 570.50,301.5 571.00,300.5 571.50,298.8 572.00,299.7 572.50,298.9 573.00,300.2 573.50,298.3 574.00,296.9 574.50,295.9 575.00,294.7 575.50,294.7 576.00,293.3 576.50,295.8 577.00,299.5 577.50,304.6 578.00,300.6 578.50,293.1 579.00,299.5 579.50,299.9 580.00,301.2 580.50,303.1 581.00,302.1 581.50,297.9 582.00,301.7 582.50,301.5 583.00,302.1 583.50,303.5 584.00,300.1 584.50,303.2 585.00,299.4 585.50,301.8 586.00,303.9 586.50,305.1 587.00,300.8 587.50,299.4 588.00,302.8 588.50,300.8 589.00,303.9 589.50,300.5 590.00,300.1 590.50,303.0 591.00,301.2 591.50,302.4 592.00,298.8 592.50,303.1 593.00,299.8 593.50,301.7 594.00,299.1 594.50,298.3 595.00,300.1 595.50,300.7 596.00,302.8 596.50,301.0 597.00,301.6 597.50,301.5 598.00,305.1 598.50,299.5 599.00,302.5 599.50,300.6 600.00,301.2 600.50,300.1 601.00,302.6 601.50,299.1 602.00,299.1 602.50,300.7 603.00,298.7 603.50,302.0 604.00,302.4 604.50,300.0 605.00,302.2 605.50,300.2 606.00,301.2 606.50,301.3 607.00,304.0 607.50,301.4 608.00,296.6 608.50,300.2 609.00,303.2 609.50,299.1 610.00,300.7 610.50,300.8 611.00,297.7 611.50,300.4 612.00,305.4 612.50,301.0 613.00,299.2 613.50,301.3 614.00,300.9 614.50,302.9 615.00,298.9 615.50,299.3 616.00,299.8 616.50,299.4 617.00,299.7 617.50,299.3 618.00,298.4 618.50,297.0 619.00,298.4 619.50,297.2 620.00,297.6 620.50,298.2 621.00,298.0 621.50,300.1 622.00,297.3 622.50,299.2 623.00,299.9 623.50,298.7 624.00,296.5 624.50,295.8 625.00,300.1 625.50,300.4 626.00,299.6 626.50,297.8 627.00,301.5 627.50,300.5 628.00,299.5 628.50,299.3 629.00,296.5 629.50,300.8 630.00,297.5 630.50,298.7 631.00,300.7 631.50,299.6 632.00,301.2 632.50,297.1 633.00,295.2 633.50,289.5 633.92,281.8 634.00,281.4 634.17,280.6 634.42,282.8 634.50,282.6 635.00,288.0 635.50,291.0 636.00,293.8 636.50,292.2 637.00,294.9 637.50,296.1 638.00,297.0 638.50,296.5 639.00,299.7 639.50,299.5 640.00,298.0 640.50,297.4 641.00,302.7 641.50,298.7 642.00,297.5 642.50,299.9 643.00,299.7 643.50,299.4 644.00,300.7 644.50,298.7 645.00,301.7 645.50,298.5 646.00,300.8 646.50,301.2 647.00,300.1 647.50,301.1 648.00,298.9 648.50,298.7 649.00,300.7 649.50,300.0 650.00,303.1 650.50,301.2 651.00,302.1 651.50,301.7 652.00,301.5 652.50,301.4 653.00,300.7 653.50,300.6 654.00,304.1 654.50,298.7 655.00,300.9 655.50,302.6 656.00,301.7 656.50,303.1 657.00,301.9 657.50,299.2 658.00,300.5 658.50,299.0 659.00,302.4 659.50,303.1 660.00,300.4 660.50,301.8 661.00,300.5 661.50,299.0 662.00,300.5 662.50,298.9 663.00,300.3 663.50,301.4 664.00,302.2 664.50,303.0 665.00,300.6 665.50,301.4 666.00,301.6 666.50,301.7 667.00,296.7 667.50,299.6 668.00,301.8 668.50,298.9 669.00,300.7 669.50,301.5 670.00,297.5 670.50,299.8 671.00,300.3 671.50,299.9 672.00,297.7 672.50,300.3 673.00,299.0 673.50,300.9 674.00,300.3 674.50,298.9 675.00,299.9 675.50,298.6 676.00,298.6 676.50,297.3 677.00,299.2 677.50,300.8 678.00,299.8 678.50,299.6 679.00,299.0 679.50,299.0 680.00,300.9 680.50,297.8 681.00,302.9 681.50,299.9 682.00,303.2 682.50,301.2 683.00,299.5 683.50,301.2 684.00,300.5 684.50,300.8 685.00,301.3 685.50,299.4 686.00,299.3 686.50,299.6 687.00,298.3 687.50,300.0 688.00,300.8 688.50,300.9 689.00,300.9 689.50,300.1 690.00,301.8 690.50,297.8 691.00,300.1 691.50,300.2 692.00,301.9 692.50,301.5 693.00,301.7 693.50,300.5 694.00,301.8 694.50,299.0 695.00,300.5 695.50,297.4 696.00,302.9 696.50,302.8 697.00,299.7 697.50,299.4 698.00,297.7 698.50,298.5 699.00,300.9 699.50,300.5 700.00,298.5 700.50,299.9 701.00,299.6 701.50,301.1 702.00,301.4 702.50,299.9 703.00,300.3 703.50,300.0 704.00,296.9 704.50,300.1 705.00,299.6 705.50,300.7 706.00,296.9 706.50,300.5 707.00,298.4 707.50,299.6 708.00,301.0 708.50,297.1 709.00,297.3 709.50,300.7 710.00,298.6 710.50,298.0 711.00,300.3 711.50,299.2 712.00,300.7 712.50,300.0 713.00,299.6 713.50,301.0 714.00,302.7 714.50,299.4 715.00,301.5 715.50,300.8 716.00,299.1 716.50,299.3 717.00,296.7 717.50,295.7 718.00,293.9 718.50,288.1 718.85,286.2 719.00,281.6 719.10,284.1 719.35,283.4 719.50,285.6 720.00,292.8 720.50,292.5 721.00,295.5 721.50,292.2 722.00,293.0 722.50,297.1 723.00,297.0 723.50,299.3 724.00,298.8 724.50,298.5 725.00,298.3 725.50,296.4 726.00,297.9 726.50,299.2 727.00,299.4 727.50,297.0 728.00,300.7 728.50,300.3 729.00,297.8 729.50,298.3 730.00,300.7 730.50,297.6 731.00,299.3 731.50,300.4 732.00,300.5 732.50,300.7 733.00,301.5 733.50,300.0 734.00,300.6 734.50,304.3 735.00,299.5 735.50,301.0 736.00,301.8 736.50,300.8 737.00,303.5 737.50,301.8 738.00,302.8 738.50,297.9 739.00,303.3 739.50,303.1 740.00,300.3 740.50,303.1 741.00,301.5 741.50,302.3 742.00,303.5 742.50,300.9 743.00,299.3 743.50,300.6 744.00,296.1 744.50,299.3 745.00,299.3 745.50,299.3 746.00,302.0 746.50,301.4 747.00,298.9 747.50,301.8 748.00,297.7 748.50,297.9 749.00,299.8 749.50,301.7 750.00,301.0 750.50,300.6 751.00,301.8 751.50,300.9 752.00,301.9 752.50,298.8 753.00,297.5 753.50,299.3 754.00,301.1 754.50,300.3 755.00,301.3 755.50,301.0 756.00,300.8 756.50,301.3 757.00,299.2 757.50,301.8 758.00,301.5 758.50,300.3 759.00,298.6 759.50,301.5 760.00,298.6 760.50,303.0 761.00,299.2 761.50,301.6 762.00,301.1 762.50,300.1 763.00,301.0 763.50,300.8 764.00,303.6 764.50,300.0 765.00,300.3 765.50,298.5 766.00,302.1 766.50,302.5 767.00,301.5 767.50,300.8 768.00,299.7 768.50,304.3 769.00,301.9 769.50,298.1 770.00,300.3 770.50,296.9 771.00,302.8 771.50,303.3 772.00,302.6 772.50,300.4 773.00,299.6 773.50,298.4 774.00,301.2 774.50,299.4 775.00,300.0 775.50,299.7 776.00,300.3 776.50,302.1"/>
<polyline fill="none" stroke="#000080" stroke-width="1.35" stroke-linejoin="round" points="119.50,249.4 120.00,253.1 120.50,249.4 121.00,247.0 121.50,250.1 122.00,249.4 122.50,247.9 123.00,249.4 123.50,248.9 124.00,248.7 124.50,248.2 125.00,248.9 125.50,246.9 126.00,247.6 126.50,247.1 127.00,248.5 127.50,247.6 128.00,247.0 128.50,246.3 129.00,247.0 129.50,252.3 130.00,246.8 130.50,249.1 131.00,248.6 131.50,243.3 132.00,244.4 132.50,246.9 133.00,246.5 133.50,247.4 134.00,247.3 134.50,250.0 135.00,245.4 135.50,246.4 136.00,249.9 136.50,247.9 137.00,248.0 137.50,246.4 138.00,244.9 138.50,247.7 139.00,247.7 139.50,246.0 140.00,246.9 140.50,247.9 141.00,246.7 141.50,248.0 142.00,248.3 142.50,248.3 143.00,244.8 143.50,249.1 144.00,249.5 144.50,248.7 145.00,247.0 145.50,249.2 146.00,247.4 146.50,249.4 147.00,246.6 147.50,249.5 148.00,249.1 148.50,247.6 149.00,247.8 149.50,248.4 150.00,248.7 150.50,246.9 151.00,246.7 151.50,248.6 152.00,247.6 152.50,248.6 153.00,249.2 153.50,245.7 154.00,248.2 154.50,249.5 155.00,247.1 155.50,246.2 156.00,248.3 156.50,247.4 157.00,248.2 157.50,246.3 158.00,244.6 158.50,246.5 159.00,249.5 159.50,247.9 160.00,247.1 160.50,244.6 161.00,245.3 161.50,248.4 162.00,248.2 162.50,246.5 163.00,247.5 163.50,248.2 164.00,248.4 164.50,249.1 165.00,248.3 165.50,247.9 166.00,247.7 166.50,249.7 167.00,245.0 167.50,248.1 168.00,248.4 168.50,246.3 169.00,248.7 169.50,247.4 170.00,249.5 170.50,248.0 171.00,249.0 171.50,249.6 172.00,248.3 172.50,246.2 173.00,245.0 173.50,249.2 174.00,245.8 174.50,243.6 175.00,242.7 175.50,239.3 176.00,237.9 176.50,235.4 177.00,236.8 177.50,238.6 178.00,242.9 178.50,242.5 179.00,246.1 179.50,247.9 180.00,243.8 180.50,242.6 181.00,247.1 181.50,249.8 182.00,244.6 182.50,243.9 183.00,246.1 183.50,243.1 184.00,241.9 184.50,238.5 185.00,230.7 185.50,211.5 185.60,208.8 185.85,204.5 186.00,204.5 186.10,208.4 186.50,223.1 187.00,237.4 187.50,241.4 188.00,244.1 188.50,249.2 189.00,248.0 189.50,248.7 190.00,250.0 190.50,249.0 191.00,249.5 191.50,250.6 192.00,250.6 192.50,248.6 193.00,251.4 193.50,249.4 194.00,248.7 194.50,248.9 195.00,249.5 195.50,252.3 196.00,248.2 196.50,250.0 197.00,245.7 197.50,249.5 198.00,250.6 198.50,248.8 199.00,248.0 199.50,249.0 200.00,249.5 200.50,249.3 201.00,251.1 201.50,248.5 202.00,247.3 202.50,247.9 203.00,248.0 203.50,248.4 204.00,248.3 204.50,248.7 205.00,246.2 205.50,249.9 206.00,248.0 206.50,247.3 207.00,250.0 207.50,251.1 208.00,249.9 208.50,249.4 209.00,247.9 209.50,255.4 210.00,250.5 210.50,247.7 211.00,248.2 211.50,249.5 212.00,243.7 212.50,249.7 213.00,248.9 213.50,251.4 214.00,251.1 214.50,245.9 215.00,249.9 215.50,247.6 216.00,251.5 216.50,250.1 217.00,250.7 217.50,248.3 218.00,252.3 218.50,252.5 219.00,247.9 219.50,249.8 220.00,248.2 220.50,248.9 221.00,247.0 221.50,251.3 222.00,247.1 222.50,248.0 223.00,249.4 223.50,247.3 224.00,247.8 224.50,246.5 225.00,247.9 225.50,246.4 226.00,247.5 226.50,247.8 227.00,252.3 227.50,248.3 228.00,247.8 228.50,249.4 229.00,247.9 229.50,250.2 230.00,247.5 230.50,247.7 231.00,246.7 231.50,249.3 232.00,246.9 232.50,247.5 233.00,249.0 233.50,249.1 234.00,247.9 234.50,245.6 235.00,249.0 235.50,248.7 236.00,246.3 236.50,249.3 237.00,247.0 237.50,246.2 238.00,247.7 238.50,247.0 239.00,247.0 239.50,243.8 240.00,247.8 240.50,242.8 241.00,238.9 241.50,236.4 242.00,219.8 242.50,179.2 242.63,163.9 242.88,150.0 243.00,153.5 243.13,163.5 243.50,204.1 244.00,229.3 244.50,237.9 245.00,243.0 245.50,245.5 246.00,244.0 246.50,245.7 247.00,248.3 247.50,245.3 248.00,241.4 248.50,247.9 249.00,245.6 249.50,246.9 250.00,245.9 250.50,246.7 251.00,244.4 251.50,245.7 252.00,248.0 252.50,244.6 253.00,252.9 253.50,247.7 254.00,247.6 254.50,249.9 255.00,248.5 255.50,246.0 256.00,249.4 256.50,249.8 257.00,247.9 257.50,248.3 258.00,249.4 258.50,247.6 259.00,249.6 259.50,249.4 260.00,248.2 260.50,247.2 261.00,248.9 261.50,248.0 262.00,250.7 262.50,249.4 263.00,250.2 263.50,249.2 264.00,249.3 264.50,247.7 265.00,249.8 265.50,251.3 266.00,248.3 266.50,247.9 267.00,248.5 267.50,248.1 268.00,247.8 268.50,249.0 269.00,248.4 269.50,250.9 270.00,248.9 270.50,249.4 271.00,250.4 271.50,248.6 272.00,251.2 272.50,248.4 273.00,248.2 273.50,249.0 274.00,249.5 274.50,248.0 275.00,249.8 275.50,247.6 276.00,252.0 276.50,249.4 277.00,249.2 277.50,248.8 278.00,249.5 278.50,249.7 279.00,248.4 279.50,244.2 280.00,249.4 280.50,248.7 281.00,250.6 281.50,250.6 282.00,248.8 282.50,249.3 283.00,246.5 283.50,249.1 284.00,248.1 284.50,248.7 285.00,250.3 285.50,244.7 286.00,248.4 286.50,246.6 287.00,249.1 287.50,246.6 288.00,247.9 288.50,249.1 289.00,249.9 289.50,249.3 290.00,248.2 290.50,248.6 291.00,250.7 291.50,249.5 292.00,247.1 292.50,250.7 293.00,250.1 293.50,250.7 294.00,249.0 294.50,250.7 295.00,248.0 295.50,250.4 296.00,248.9 296.50,250.7 297.00,251.2 297.50,248.8 298.00,249.8 298.50,249.9 299.00,251.6 299.50,250.9 300.00,248.1 300.50,250.5 301.00,250.9 301.50,252.8 302.00,247.3 302.50,248.9 303.00,251.5 303.50,247.6 304.00,247.8 304.50,250.2 305.00,250.8 305.50,248.3 306.00,250.0 306.50,249.3 307.00,255.0 307.50,249.0 308.00,250.3 308.50,247.5 309.00,248.5 309.50,248.6 310.00,250.3 310.50,249.5 311.00,248.3 311.50,249.7 312.00,249.8 312.50,248.6 313.00,248.5 313.50,248.6 314.00,246.5 314.50,249.3 315.00,249.4 315.50,247.9 316.00,250.2 316.50,247.3 317.00,248.5 317.50,245.7 318.00,252.2 318.50,247.2 319.00,250.4 319.50,251.0 320.00,250.3 320.50,251.6 321.00,248.5 321.50,246.8 322.00,251.3 322.50,248.6 323.00,249.9 323.50,248.7 324.00,252.0 324.50,251.7 325.00,249.4 325.50,251.7 326.00,250.5 326.50,250.0 327.00,250.1 327.50,249.4 328.00,250.2 328.50,247.2 329.00,247.7 329.50,248.7 330.00,245.0 330.50,244.4 331.00,242.1 331.50,237.0 332.00,221.1 332.50,186.4 332.99,95.8 333.00,94.2 333.24,67.0 333.49,96.1 333.50,96.3 334.00,182.9 334.50,219.5 335.00,232.6 335.50,237.4 336.00,241.5 336.50,240.7 337.00,235.5 337.50,228.4 337.64,225.9 337.89,225.3 338.00,227.3 338.14,230.3 338.50,237.3 339.00,239.1 339.50,244.4 340.00,246.0 340.50,246.8 341.00,248.3 341.50,249.3 342.00,252.0 342.50,249.6 343.00,251.7 343.50,252.4 344.00,250.1 344.50,252.4 345.00,251.2 345.50,249.6 346.00,250.6 346.50,250.2 347.00,249.8 347.50,249.8 348.00,250.4 348.50,250.5 349.00,248.5 349.50,249.7 350.00,247.4 350.50,249.8 351.00,250.2 351.50,249.5 352.00,249.6 352.50,250.4 353.00,248.0 353.50,248.6 354.00,249.6 354.50,250.3 355.00,249.4 355.50,252.5 356.00,248.7 356.50,250.3 357.00,250.8 357.50,248.9 358.00,248.0 358.50,247.6 359.00,249.7 359.50,251.2 360.00,250.2 360.50,250.2 361.00,249.5 361.50,251.0 362.00,247.3 362.50,250.7 363.00,250.5 363.50,248.6 364.00,253.6 364.50,248.5 365.00,248.9 365.50,248.7 366.00,251.9 366.50,248.9 367.00,251.1 367.50,250.8 368.00,250.3 368.50,248.0 369.00,249.0 369.50,252.3 370.00,248.1 370.50,248.8 371.00,249.9 371.50,251.4 372.00,250.7 372.50,251.5 373.00,249.0 373.50,251.9 374.00,251.4 374.50,248.2 375.00,252.6 375.50,253.6 376.00,249.1 376.50,250.1 377.00,251.9 377.50,247.7 378.00,246.9 378.50,247.8 379.00,248.8 379.50,245.5 380.00,250.5 380.50,250.1 381.00,248.0 381.50,250.7 382.00,252.7 382.50,251.8 383.00,251.5 383.50,250.2 384.00,251.5 384.50,248.7 385.00,251.0 385.50,249.4 386.00,250.3 386.50,247.7 387.00,242.9 387.50,243.1 388.00,246.3 388.50,245.2 389.00,247.3 389.50,247.6 390.00,246.7 390.50,250.3 391.00,250.9 391.50,250.2 392.00,249.4 392.50,249.1 393.00,249.6 393.50,248.3 394.00,250.7 394.50,251.0 395.00,249.3 395.50,248.9 396.00,249.9 396.50,249.6 397.00,252.4 397.50,250.2 398.00,247.2 398.50,250.5 399.00,252.7 399.50,251.0 400.00,251.3 400.50,250.0 401.00,247.2 401.50,247.4 402.00,248.2 402.50,249.8 403.00,250.4 403.50,251.0 404.00,249.6 404.50,251.5 405.00,249.8 405.50,249.3 406.00,251.6 406.50,249.2 407.00,246.7 407.50,249.2 408.00,250.9 408.50,246.4 409.00,250.4 409.50,250.5 410.00,249.0 410.50,248.9 411.00,250.3 411.50,250.2 412.00,252.7 412.50,251.4 413.00,248.6 413.50,249.5 414.00,251.7 414.50,253.3 415.00,251.1 415.50,250.9 416.00,253.1 416.50,250.3 417.00,249.9 417.50,248.3 418.00,249.5 418.50,253.4 419.00,251.3 419.50,250.3 420.00,248.3 420.50,250.5 421.00,251.5 421.50,249.9 422.00,251.3 422.50,251.2 423.00,250.8 423.50,252.6 424.00,251.2 424.50,249.6 425.00,249.1 425.50,248.8 426.00,250.7 426.50,249.5 427.00,253.8 427.50,252.6 428.00,249.6 428.50,249.4 429.00,252.3 429.50,247.2 430.00,249.2 430.50,251.2 431.00,248.5 431.50,249.1 432.00,249.3 432.50,250.7 433.00,250.0 433.50,250.3 434.00,250.6 434.50,249.8 435.00,251.3 435.50,248.6 436.00,247.6 436.50,247.2 437.00,247.4 437.50,249.0 438.00,251.4 438.50,250.2 439.00,249.1 439.50,248.5 440.00,249.9 440.50,248.9 441.00,247.4 441.50,242.3 442.00,236.0 442.22,234.6 442.47,229.9 442.50,230.9 442.72,229.9 443.00,237.7 443.50,243.6 444.00,245.2 444.50,249.5 445.00,252.4 445.50,250.2 446.00,251.8 446.50,250.1 447.00,247.1 447.50,250.9 448.00,249.6 448.50,248.0 449.00,251.2 449.50,250.4 450.00,249.1 450.50,251.0 451.00,248.5 451.50,250.6 452.00,248.3 452.50,250.4 453.00,248.1 453.50,251.9 454.00,250.3 454.50,252.1 455.00,249.0 455.50,249.6 456.00,251.6 456.50,246.6 457.00,249.1 457.50,252.1 458.00,251.3 458.50,252.0 459.00,250.1 459.50,251.3 460.00,249.3 460.50,248.3 461.00,247.7 461.50,249.3 462.00,249.2 462.50,248.9 463.00,244.6 463.50,246.8 464.00,248.7 464.50,249.8 465.00,248.5 465.50,248.0 466.00,245.9 466.50,252.0 467.00,247.5 467.50,251.5 468.00,251.3 468.50,249.5 469.00,248.4 469.50,249.5 470.00,247.7 470.50,249.8 471.00,249.5 471.50,250.4 472.00,251.0 472.50,252.2 473.00,249.2 473.50,251.2 474.00,248.6 474.50,248.5 475.00,248.8 475.50,248.3 476.00,251.0 476.50,250.8 477.00,251.2 477.50,249.0 478.00,248.9 478.50,246.4 479.00,241.7 479.50,234.7 479.95,223.0 480.00,218.1 480.20,219.0 480.45,220.2 480.50,223.6 481.00,235.8 481.50,244.0 482.00,246.3 482.50,250.3 483.00,250.3 483.50,251.4 484.00,250.1 484.50,248.2 485.00,249.5 485.50,248.4 486.00,250.8 486.50,251.9 487.00,250.6 487.50,249.3 488.00,250.1 488.50,250.4 489.00,248.0 489.50,250.3 490.00,250.3 490.50,249.2 491.00,249.3 491.50,250.0 492.00,246.8 492.50,248.3 493.00,250.4 493.50,249.5 494.00,251.4 494.50,247.4 495.00,246.1 495.50,249.9 496.00,249.8 496.50,247.3 497.00,246.3 497.50,248.3 498.00,245.8 498.50,247.9 499.00,245.3 499.50,248.2 500.00,245.6 500.50,248.4 501.00,251.0 501.50,248.6 502.00,250.2 502.50,248.4 503.00,248.1 503.50,247.4 504.00,251.2 504.50,249.8 505.00,251.2 505.50,248.4 506.00,249.9 506.50,250.4 507.00,252.4 507.50,253.0 508.00,249.5 508.50,248.8 509.00,248.0 509.50,252.3 510.00,250.2 510.50,249.4 511.00,250.1 511.50,246.4 512.00,247.5 512.50,251.2 513.00,250.3 513.50,249.8 514.00,248.1 514.50,250.3 515.00,252.0 515.50,247.7 516.00,249.4 516.50,248.8 517.00,250.0 517.50,249.6 518.00,249.4 518.50,248.4 519.00,249.7 519.50,248.9 520.00,249.6 520.50,249.7 521.00,250.7 521.50,249.0 522.00,249.3 522.50,251.3 523.00,249.4 523.50,249.3 524.00,250.9 524.50,250.0 525.00,249.8 525.50,249.9 526.00,247.9 526.50,250.3 527.00,251.6 527.50,250.6 528.00,247.6 528.50,250.2 529.00,248.6 529.50,249.5 530.00,250.0 530.50,248.0 531.00,251.5 531.50,251.5 532.00,250.5 532.50,250.1 533.00,250.9 533.50,250.5 534.00,246.5 534.50,248.5 535.00,245.2 535.50,247.5 536.00,249.1 536.50,249.3 537.00,249.8 537.50,247.3 538.00,248.1 538.50,247.1 539.00,246.9 539.50,242.9 540.00,232.4 540.31,233.7 540.50,226.8 540.56,226.3 540.81,229.0 541.00,231.7 541.50,238.2 542.00,239.2 542.50,241.5 543.00,240.4 543.50,246.0 544.00,248.5 544.50,246.2 545.00,247.2 545.50,247.4 546.00,249.4 546.50,249.2 547.00,246.1 547.50,248.1 548.00,250.0 548.50,251.4 549.00,245.5 549.50,249.2 550.00,249.9 550.50,249.4 551.00,249.3 551.50,252.2 552.00,251.5 552.50,250.9 553.00,248.6 553.50,252.9 554.00,250.2 554.50,248.9 555.00,249.2 555.50,249.0 556.00,252.7 556.50,249.9 557.00,249.7 557.50,246.6 558.00,245.3 558.50,248.3 559.00,248.2 559.50,250.8 560.00,248.8 560.50,251.3 561.00,251.8 561.50,253.7 562.00,250.1 562.50,248.1 563.00,250.2 563.50,251.6 564.00,248.3 564.50,252.7 565.00,249.6 565.50,248.2 566.00,249.8 566.50,250.9 567.00,247.8 567.50,249.8 568.00,247.9 568.50,251.7 569.00,250.3 569.50,249.7 570.00,251.9 570.50,248.8 571.00,250.2 571.50,253.6 572.00,250.8 572.50,252.9 573.00,251.1 573.50,249.3 574.00,249.0 574.50,248.0 575.00,245.6 575.50,243.7 576.00,244.0 576.50,244.4 577.00,248.1 577.50,249.6 578.00,250.7 578.50,247.3 579.00,251.1 579.50,249.8 580.00,247.7 580.50,249.8 581.00,250.7 581.50,250.2 582.00,250.3 582.50,250.7 583.00,250.7 583.50,249.4 584.00,246.5 584.50,248.4 585.00,250.0 585.50,248.9 586.00,250.7 586.50,250.9 587.00,249.9 587.50,252.6 588.00,248.6 588.50,251.4 589.00,249.5 589.50,249.2 590.00,251.2 590.50,249.6 591.00,251.7 591.50,248.9 592.00,250.6 592.50,249.4 593.00,250.2 593.50,250.0 594.00,248.9 594.50,251.4 595.00,248.6 595.50,248.9 596.00,251.4 596.50,251.4 597.00,250.8 597.50,250.2 598.00,252.8 598.50,247.7 599.00,248.3 599.50,247.8 600.00,250.4 600.50,249.5 601.00,250.7 601.50,250.5 602.00,248.8 602.50,248.0 603.00,245.1 603.50,252.5 604.00,250.8 604.50,250.3 605.00,249.0 605.50,249.3 606.00,249.1 606.50,248.3 607.00,246.1 607.50,249.5 608.00,249.0 608.50,250.0 609.00,249.8 609.50,250.8 610.00,249.6 610.50,250.8 611.00,246.0 611.50,249.7 612.00,252.2 612.50,248.1 613.00,249.5 613.50,250.9 614.00,248.6 614.50,250.9 615.00,242.0 615.50,247.1 616.00,247.9 616.50,250.2 617.00,249.7 617.50,249.2 618.00,249.8 618.50,250.4 619.00,253.3 619.50,249.5 620.00,249.6 620.50,250.4 621.00,249.5 621.50,249.0 622.00,250.1 622.50,251.3 623.00,251.0 623.50,251.4 624.00,249.2 624.50,248.9 625.00,252.8 625.50,249.5 626.00,250.4 626.50,250.6 627.00,251.5 627.50,247.4 628.00,248.5 628.50,248.4 629.00,248.5 629.50,242.5 630.00,248.5 630.50,244.4 631.00,248.7 631.50,248.8 632.00,248.4 632.50,244.7 633.00,245.2 633.50,237.8 634.00,232.3 634.50,233.4 635.00,237.8 635.50,241.2 636.00,241.8 636.50,238.9 637.00,244.1 637.50,248.3 638.00,248.4 638.50,254.6 639.00,246.7 639.50,250.4 640.00,246.9 640.50,249.5 641.00,251.3 641.50,252.1 642.00,250.3 642.50,250.9 643.00,248.9 643.50,249.2 644.00,251.7 644.50,250.2 645.00,250.1 645.50,248.3 646.00,250.6 646.50,251.3 647.00,249.3 647.50,249.6 648.00,252.4 648.50,250.2 649.00,249.3 649.50,247.7 650.00,247.8 650.50,247.4 651.00,248.4 651.50,244.3 652.00,247.1 652.50,243.7 653.00,245.7 653.50,248.4 654.00,247.6 654.50,247.2 655.00,248.4 655.50,249.3 656.00,246.3 656.50,248.4 657.00,248.6 657.50,248.3 658.00,250.0 658.50,248.2 659.00,248.6 659.50,249.3 660.00,250.4 660.50,249.2 661.00,253.9 661.50,248.5 662.00,251.8 662.50,250.1 663.00,250.0 663.50,250.9 664.00,253.4 664.50,251.8 665.00,250.0 665.50,252.5 666.00,250.3 666.50,249.0 667.00,251.2 667.50,250.7 668.00,251.9 668.50,249.7 669.00,250.9 669.50,251.2 670.00,250.6 670.50,250.1 671.00,249.1 671.50,249.3 672.00,250.2 672.50,250.7 673.00,249.5 673.50,250.1 674.00,248.6 674.50,250.3 675.00,251.4 675.50,250.5 676.00,251.7 676.50,251.1 677.00,252.7 677.50,250.6 678.00,248.6 678.50,248.8 679.00,250.8 679.50,249.7 680.00,252.0 680.50,251.4 681.00,251.7 681.50,250.5 682.00,251.3 682.50,251.3 683.00,253.5 683.50,250.0 684.00,251.0 684.50,251.7 685.00,248.8 685.50,249.0 686.00,254.5 686.50,249.0 687.00,252.5 687.50,254.2 688.00,250.7 688.50,249.0 689.00,250.5 689.50,252.9 690.00,249.8 690.50,252.6 691.00,252.2 691.50,254.5 692.00,250.9 692.50,253.3 693.00,252.7 693.50,251.0 694.00,249.0 694.50,253.5 695.00,249.4 695.50,250.6 696.00,252.6 696.50,252.9 697.00,250.1 697.50,251.2 698.00,250.9 698.50,252.9 699.00,254.8 699.50,248.5 700.00,252.4 700.50,247.0 701.00,251.1 701.50,249.4 702.00,253.8 702.50,251.2 703.00,249.9 703.50,250.2 704.00,250.1 704.50,251.2 705.00,249.5 705.50,251.9 706.00,251.0 706.50,252.0 707.00,249.3 707.50,248.8 708.00,250.1 708.50,252.7 709.00,250.8 709.50,250.4 710.00,251.6 710.50,249.4 711.00,249.7 711.50,252.1 712.00,250.8 712.50,250.5 713.00,251.5 713.50,250.1 714.00,249.7 714.50,249.9 715.00,251.2 715.50,250.1 716.00,248.0 716.50,248.8 717.00,249.3 717.50,249.1 718.00,240.7 718.50,235.6 718.85,229.7 719.00,230.0 719.10,228.8 719.35,231.8 719.50,232.2 720.00,237.7 720.50,241.7 721.00,243.4 721.50,241.9 722.00,242.7 722.50,247.1 723.00,245.2 723.50,248.5 724.00,246.7 724.50,246.5 725.00,250.1 725.50,250.0 726.00,247.9 726.50,251.9 727.00,248.2 727.50,248.1 728.00,250.8 728.50,250.2 729.00,249.7 729.50,249.9 730.00,250.3 730.50,249.8 731.00,249.7 731.50,247.2 732.00,248.0 732.50,250.8 733.00,249.0 733.50,250.8 734.00,251.9 734.50,249.7 735.00,250.7 735.50,253.3 736.00,251.5 736.50,253.2 737.00,252.9 737.50,251.9 738.00,250.7 738.50,249.7 739.00,249.4 739.50,251.7 740.00,251.7 740.50,250.8 741.00,252.2 741.50,250.1 742.00,252.5 742.50,250.8 743.00,250.6 743.50,250.5 744.00,250.2 744.50,253.8 745.00,247.8 745.50,250.2 746.00,251.6 746.50,250.8 747.00,249.3 747.50,252.2 748.00,248.1 748.50,247.8 749.00,250.5 749.50,247.6 750.00,246.3 750.50,251.0 751.00,250.8 751.50,250.8 752.00,249.0 752.50,250.0 753.00,248.3 753.50,252.2 754.00,250.9 754.50,250.9 755.00,247.1 755.50,251.1 756.00,252.2 756.50,251.9 757.00,251.4 757.50,250.4 758.00,250.0 758.50,251.4 759.00,251.2 759.50,251.0 760.00,250.2 760.50,253.0 761.00,248.9 761.50,250.5 762.00,249.6 762.50,251.8 763.00,252.3 763.50,251.9 764.00,251.1 764.50,248.0 765.00,252.9 765.50,250.6 766.00,249.6 766.50,249.8 767.00,249.3 767.50,250.4 768.00,250.2 768.50,249.3 769.00,247.6 769.50,249.9 770.00,250.6 770.50,250.7 771.00,249.8 771.50,250.7 772.00,251.5 772.50,249.3 773.00,252.1 773.50,247.2 774.00,248.2 774.50,248.7 775.00,246.5 775.50,249.4 776.00,251.8 776.50,251.8"/>
<text x="119.0" y="526" font-size="19.5" text-anchor="middle">20</text>
<text x="206.7" y="526" font-size="19.5" text-anchor="middle">30</text>
<text x="294.5" y="526" font-size="19.5" text-anchor="middle">40</text>
<text x="382.2" y="526" font-size="19.5" text-anchor="middle">50</text>
<text x="469.9" y="526" font-size="19.5" text-anchor="middle">60</text>
<text x="557.7" y="526" font-size="19.5" text-anchor="middle">70</text>
<text x="645.4" y="526" font-size="19.5" text-anchor="middle">80</text>
<text x="733.1" y="526" font-size="19.5" text-anchor="middle">90</text>
<text x="102.5" y="500.8" font-size="19.5" text-anchor="end">0</text>
<text x="102.5" y="453.9" font-size="19.5" text-anchor="end">300</text>
<text x="102.5" y="407.1" font-size="19.5" text-anchor="end">600</text>
<text x="102.5" y="360.2" font-size="19.5" text-anchor="end">900</text>
<text x="102.5" y="313.4" font-size="19.5" text-anchor="end">1200</text>
<text x="102.5" y="266.5" font-size="19.5" text-anchor="end">1500</text>
<text x="102.5" y="219.7" font-size="19.5" text-anchor="end">1800</text>
<text x="102.5" y="172.8" font-size="19.5" text-anchor="end">2100</text>
<text x="102.5" y="126.0" font-size="19.5" text-anchor="end">2400</text>
<text x="102.5" y="79.1" font-size="19.5" text-anchor="end">2700</text>
<text x="102.5" y="32.3" font-size="19.5" text-anchor="end">3000</text>
<text transform="translate(23.6 258.2) rotate(-90)" font-size="23.7" text-anchor="middle">Intensity (abr. units)</text>
<text x="299.3" y="568" font-size="23.8">Diffraction angle 2<tspan font-size="22.5">Θ</tspan><tspan dx="-2.8"> (</tspan><tspan font-size="14.5" dy="-13" dx="-0.5">o</tspan><tspan dy="13">), Cu</tspan><tspan font-size="12" dy="9">Kα</tspan></text>
<rect x="581.1" y="12.5" width="195.4" height="191" fill="#fff" stroke="#2a2a2a" stroke-width="1.3"/>
<text x="597" y="37.0" font-size="19.2"><tspan fill="#000080" stroke="#000080">a)</tspan> 60%TiB<tspan font-size="11.5" dy="7">2</tspan><tspan dy="-7">, C 10μm</tspan></text>
<text x="597" y="67.3" font-size="19.2"><tspan fill="#800000" stroke="#800000">b)</tspan> 80%TiB<tspan font-size="11.5" dy="7">2</tspan><tspan dy="-7">, C 10μm</tspan></text>
<text x="597" y="97.7" font-size="19.2"><tspan fill="#008000" stroke="#008000">c)</tspan> 60%TiB<tspan font-size="11.5" dy="7">2</tspan><tspan dy="-7">, C 2μm</tspan></text>
<text x="597" y="128.1" font-size="19.2"><tspan fill="#0000ff" stroke="#0000ff">d)</tspan> 70%TiB<tspan font-size="11.5" dy="7">2</tspan><tspan dy="-7">, C 2μm</tspan></text>
<text x="597" y="158.4" font-size="19.2"><tspan fill="#ff0000" stroke="#ff0000">e)</tspan> 80%TiB<tspan font-size="11.5" dy="7">2</tspan><tspan dy="-7">, C 2μm</tspan></text>
<text x="597" y="188.8" font-size="19.2"><tspan fill="#800080" stroke="#800080">f)</tspan> 90%TiB<tspan font-size="11.5" dy="7">2</tspan><tspan dy="-7">, C 2μm</tspan></text>
<rect x="119" y="12" width="658" height="483" fill="none" stroke="#000" stroke-width="2"/>
<path d="M119.0 495v10 M162.9 495v5 M206.7 495v10 M250.6 495v5 M294.5 495v10 M338.3 495v5 M382.2 495v10 M426.1 495v5 M469.9 495v10 M513.8 495v5 M557.7 495v10 M601.5 495v5 M645.4 495v10 M689.3 495v5 M733.1 495v10 M777.0 495v5 M119 495.0h-10 M119 471.6h-5 M119 448.1h-10 M119 424.7h-5 M119 401.3h-10 M119 377.9h-5 M119 354.4h-10 M119 331.0h-5 M119 307.6h-10 M119 284.2h-5 M119 260.7h-10 M119 237.3h-5 M119 213.9h-10 M119 190.5h-5 M119 167.0h-10 M119 143.6h-5 M119 120.2h-10 M119 96.8h-5 M119 73.3h-10 M119 49.9h-5 M119 26.5h-10 M184.8 12v5 M250.6 12v10 M316.4 12v5 M382.2 12v10 M448.0 12v5 M513.8 12v10 M579.6 12v5 M645.4 12v10 M711.2 12v5 M777 446.7h-5 M777 398.4h-10 M777 350.1h-5 M777 301.8h-10 M777 253.5h-5 M777 205.2h-10 M777 156.9h-5 M777 108.6h-10 M777 60.3h-5" stroke="#000" stroke-width="2" fill="none"/>
<line x1="413.0" y1="36.0" x2="413.0" y2="45.1" stroke="#000" stroke-width="1.5"/><path d="M409.7 44.1L416.3 44.1L413.6 56.6L412.4 56.6Z" fill="#000"/>
<text x="428" y="52.7" font-size="23.5">TiB<tspan font-size="13.5" dy="9">2</tspan></text>
<text x="416" y="89.3" font-size="17" font-weight="bold" text-anchor="middle">#</text>
<text x="428" y="89.1" font-size="23.5">B<tspan font-size="13" dy="9">13</tspan><tspan dy="-9">C</tspan><tspan font-size="13.5" dy="9">2</tspan></text>
<text x="416.4" y="127.5" font-size="24" text-anchor="middle">*</text>
<text x="426" y="128.5" font-size="23">C</text>
<text x="416.1" y="158.2" font-size="19.5" text-anchor="middle">x</text>
<text x="427" y="158.2" font-size="23">TiB</text>
<text x="127.5" y="231.0" font-size="20" fill="#000080" stroke="#000080">a)</text>
<text x="127.5" y="282.0" font-size="20" fill="#800000" stroke="#800000">b)</text>
<text x="128.5" y="325.3" font-size="20" fill="#008000" stroke="#008000">c)</text>
<text x="127.8" y="372.7" font-size="20" fill="#0000ff" stroke="#0000ff">d)</text>
<text x="129.5" y="416.7" font-size="20" fill="#ff0000" stroke="#ff0000">e)</text>
<text x="132.5" y="474.3" font-size="20" fill="#800080" stroke="#800080">f)</text>
<line x1="186.0" y1="178.0" x2="186.0" y2="188.3" stroke="#000" stroke-width="1.5"/><path d="M182.7 187.3L189.3 187.3L186.6 199.8L185.4 199.8Z" fill="#000"/>
<line x1="243.2" y1="122.0" x2="243.2" y2="131.7" stroke="#000" stroke-width="1.5"/><path d="M239.9 130.7L246.5 130.7L243.8 143.2L242.6 143.2Z" fill="#000"/>
<line x1="333.7" y1="39.7" x2="333.7" y2="49.6" stroke="#000" stroke-width="1.5"/><path d="M330.4 48.6L337.0 48.6L334.3 61.1L333.1 61.1Z" fill="#000"/>
<line x1="441.3" y1="209.0" x2="441.3" y2="218.6" stroke="#000" stroke-width="1.5"/><path d="M438.0 217.6L444.6 217.6L441.9 230.1L440.7 230.1Z" fill="#000"/>
<line x1="480.0" y1="193.0" x2="480.0" y2="202.5" stroke="#000" stroke-width="1.5"/><path d="M476.7 201.5L483.3 201.5L480.6 214.0L479.4 214.0Z" fill="#000"/>
<line x1="539.5" y1="200.0" x2="539.5" y2="209.9" stroke="#000" stroke-width="1.5"/><path d="M536.2 208.9L542.8 208.9L540.1 221.4L538.9 221.4Z" fill="#000"/>
<line x1="575.5" y1="216.5" x2="575.5" y2="226.0" stroke="#000" stroke-width="1.5"/><path d="M572.2 225.0L578.8 225.0L576.1 237.5L574.9 237.5Z" fill="#000"/>
<line x1="634.4" y1="205.5" x2="634.4" y2="215.7" stroke="#000" stroke-width="1.5"/><path d="M631.1 214.7L637.7 214.7L635.0 227.2L633.8 227.2Z" fill="#000"/>
<line x1="717.9" y1="207.0" x2="717.9" y2="217.1" stroke="#000" stroke-width="1.5"/><path d="M714.6 216.1L721.2 216.1L718.5 228.6L717.3 228.6Z" fill="#000"/>
<text x="274.0" y="236.5" font-size="17" font-weight="bold" text-anchor="middle">#</text>
<text x="275.4" y="284.8" font-size="17" font-weight="bold" text-anchor="middle">#</text>
<text x="276.8" y="328.8" font-size="17" font-weight="bold" text-anchor="middle">#</text>
<text x="275.4" y="375.1" font-size="17" font-weight="bold" text-anchor="middle">#</text>
<text x="273.4" y="422.7" font-size="17" font-weight="bold" text-anchor="middle">#</text>
<text x="274.5" y="471.5" font-size="17" font-weight="bold" text-anchor="middle">#</text>
<text x="420.8" y="237.4" font-size="17" font-weight="bold" text-anchor="middle">#</text>
<text x="447.2" y="234.5" font-size="17" font-weight="bold" text-anchor="middle">#</text>
<text x="458.9" y="239.5" font-size="17" font-weight="bold" text-anchor="middle">#</text>
<text x="422.3" y="284.9" font-size="17" font-weight="bold" text-anchor="middle">#</text>
<text x="448.1" y="282.8" font-size="17" font-weight="bold" text-anchor="middle">#</text>
<text x="460.4" y="287.8" font-size="17" font-weight="bold" text-anchor="middle">#</text>
<text x="423.8" y="329.7" font-size="17" font-weight="bold" text-anchor="middle">#</text>
<text x="449.3" y="327.9" font-size="17" font-weight="bold" text-anchor="middle">#</text>
<text x="462.4" y="331.7" font-size="17" font-weight="bold" text-anchor="middle">#</text>
<text x="421.7" y="376.2" font-size="17" font-weight="bold" text-anchor="middle">#</text>
<text x="448.1" y="373.6" font-size="17" font-weight="bold" text-anchor="middle">#</text>
<text x="461.0" y="378.6" font-size="17" font-weight="bold" text-anchor="middle">#</text>
<text x="420.2" y="424.0" font-size="17" font-weight="bold" text-anchor="middle">#</text>
<text x="445.7" y="421.1" font-size="17" font-weight="bold" text-anchor="middle">#</text>
<text x="458.9" y="425.5" font-size="17" font-weight="bold" text-anchor="middle">#</text>
<text x="421.7" y="473.8" font-size="17" font-weight="bold" text-anchor="middle">#</text>
<text x="448.1" y="470.3" font-size="17" font-weight="bold" text-anchor="middle">#</text>
<text x="461.0" y="475.3" font-size="17" font-weight="bold" text-anchor="middle">#</text>
<text x="559.4" y="239.4" font-size="17" font-weight="bold" text-anchor="middle">#</text>
<text x="594.0" y="244.7" font-size="17" font-weight="bold" text-anchor="middle">#</text>
<text x="637.9" y="230.7" font-size="17" font-weight="bold" text-anchor="middle">#</text>
<text x="649.6" y="239.4" font-size="17" font-weight="bold" text-anchor="middle">#</text>
<text x="668.1" y="239.4" font-size="17" font-weight="bold" text-anchor="middle">#</text>
<text x="695.0" y="240.9" font-size="17" font-weight="bold" text-anchor="middle">#</text>
<text x="560.3" y="287.8" font-size="17" font-weight="bold" text-anchor="middle">#</text>
<text x="595.4" y="292.8" font-size="17" font-weight="bold" text-anchor="middle">#</text>
<text x="639.4" y="279.0" font-size="17" font-weight="bold" text-anchor="middle">#</text>
<text x="650.5" y="287.8" font-size="17" font-weight="bold" text-anchor="middle">#</text>
<text x="669.2" y="287.8" font-size="17" font-weight="bold" text-anchor="middle">#</text>
<text x="696.5" y="288.7" font-size="17" font-weight="bold" text-anchor="middle">#</text>
<text x="561.7" y="331.7" font-size="17" font-weight="bold" text-anchor="middle">#</text>
<text x="596.0" y="338.5" font-size="17" font-weight="bold" text-anchor="middle">#</text>
<text x="640.8" y="323.5" font-size="17" font-weight="bold" text-anchor="middle">#</text>
<text x="652.0" y="331.7" font-size="17" font-weight="bold" text-anchor="middle">#</text>
<text x="670.1" y="331.7" font-size="17" font-weight="bold" text-anchor="middle">#</text>
<text x="698.0" y="333.2" font-size="17" font-weight="bold" text-anchor="middle">#</text>
<text x="560.3" y="378.0" font-size="17" font-weight="bold" text-anchor="middle">#</text>
<text x="594.8" y="383.9" font-size="17" font-weight="bold" text-anchor="middle">#</text>
<text x="639.4" y="369.8" font-size="17" font-weight="bold" text-anchor="middle">#</text>
<text x="650.5" y="378.0" font-size="17" font-weight="bold" text-anchor="middle">#</text>
<text x="669.2" y="378.0" font-size="17" font-weight="bold" text-anchor="middle">#</text>
<text x="696.5" y="379.2" font-size="17" font-weight="bold" text-anchor="middle">#</text>
<text x="558.8" y="425.5" font-size="17" font-weight="bold" text-anchor="middle">#</text>
<text x="593.1" y="431.3" font-size="17" font-weight="bold" text-anchor="middle">#</text>
<text x="637.3" y="417.3" font-size="17" font-weight="bold" text-anchor="middle">#</text>
<text x="648.7" y="425.5" font-size="17" font-weight="bold" text-anchor="middle">#</text>
<text x="667.2" y="425.5" font-size="17" font-weight="bold" text-anchor="middle">#</text>
<text x="694.2" y="426.9" font-size="17" font-weight="bold" text-anchor="middle">#</text>
<text x="560.3" y="474.7" font-size="17" font-weight="bold" text-anchor="middle">#</text>
<text x="594.8" y="480.5" font-size="17" font-weight="bold" text-anchor="middle">#</text>
<text x="638.8" y="465.9" font-size="17" font-weight="bold" text-anchor="middle">#</text>
<text x="650.5" y="474.7" font-size="17" font-weight="bold" text-anchor="middle">#</text>
<text x="668.7" y="474.7" font-size="17" font-weight="bold" text-anchor="middle">#</text>
<text x="695.9" y="475.9" font-size="17" font-weight="bold" text-anchor="middle">#</text>
<text x="177.0" y="226.8" font-size="24" text-anchor="middle">*</text>
<text x="175.8" y="265.5" font-size="24" text-anchor="middle">*</text>
<text x="176.8" y="319.3" font-size="24" text-anchor="middle">*</text>
<text x="176.8" y="357.9" font-size="24" text-anchor="middle">*</text>
<text x="176.8" y="411.3" font-size="24" text-anchor="middle">*</text>
<text x="176.8" y="472.3" font-size="24" text-anchor="middle">*</text>
<text x="253.3" y="473.7" font-size="18.5" text-anchor="middle">x</text>
<text x="287.9" y="476.0" font-size="18.5" text-anchor="middle">x</text>
<text x="310.7" y="477.4" font-size="18.5" text-anchor="middle">x</text>
<text x="548.6" y="466.1" font-size="18.5" text-anchor="middle">x</text>
</svg></body></html>
